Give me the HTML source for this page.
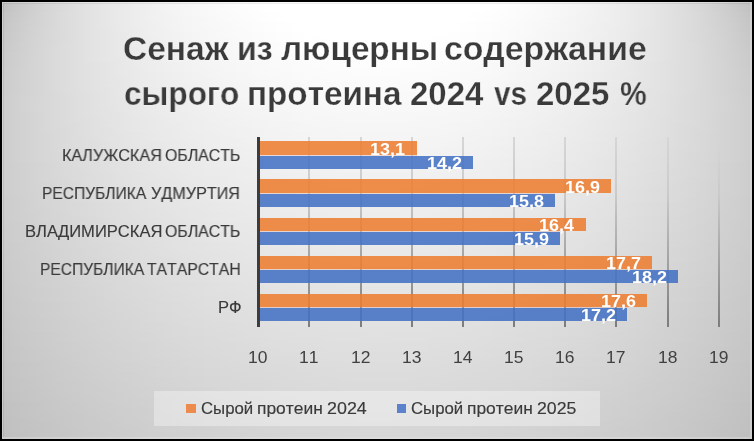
<!DOCTYPE html><html><head><meta charset="utf-8"><title>chart</title><style>
html,body{margin:0;padding:0;}
body{width:754px;height:441px;background:#000;position:relative;overflow:hidden;font-family:"Liberation Sans",sans-serif;}
#chart{position:absolute;left:2px;top:2px;width:750px;height:437px;overflow:hidden;}
#chart div{width:750px;}
#bd{position:absolute;left:2px;top:2px;width:747px;height:434px;border-style:solid;border-color:rgba(235,235,235,.3);border-width:1px 2px 2px 1px;}
#bd2{position:absolute;left:3px;top:3px;width:746px;height:433px;border-style:solid;border-color:rgba(0,0,0,.07);border-width:1px 0 0 1px;}
.t{font-kerning:none;position:absolute;white-space:nowrap;line-height:1;transform-origin:0 0;color:#3a3a3a;will-change:transform;}
.r{-webkit-text-stroke:0.15px #3a3a3a;}
.a{color:#404040;}
.g{position:absolute;width:2px;background:linear-gradient(#d6d6d6,#cacaca 30%,#7c7c7c);}
.bo{position:absolute;background:rgba(237,125,49,.88);}
.bb{position:absolute;background:rgba(68,114,196,.88);}
.dl{color:#fff;font-weight:bold;}
</style></head><body>
<div id="chart"><div style="height:5px;background:linear-gradient(90deg,#c0c0c0 0.0%,#c8c8c8 2.0%,#cfcfcf 4.0%,#d5d5d5 6.0%,#dadada 8.0%,#dfdfdf 10.0%,#e3e3e3 12.0%,#e7e7e7 14.0%,#eaeaea 16.0%,#ededed 18.0%,#f0f0f0 20.0%,#f3f3f3 22.0%,#f5f5f5 24.0%,#f7f7f7 26.0%,#f9f9f9 28.0%,#fbfbfb 30.0%,#fdfdfd 32.0%,#fefefe 34.0%,#ffffff 36.0%,#ffffff 38.0%,#ffffff 40.0%,#ffffff 42.0%,#ffffff 44.0%,#ffffff 46.0%,#ffffff 48.0%,#ffffff 50.0%,#ffffff 52.0%,#ffffff 54.0%,#ffffff 56.0%,#ffffff 58.0%,#ffffff 60.0%,#ffffff 62.0%,#ffffff 64.0%,#fefefe 66.0%,#fdfdfd 68.0%,#fbfbfb 70.0%,#f9f9f9 72.0%,#f7f7f7 74.0%,#f5f5f5 76.0%,#f3f3f3 78.0%,#f0f0f0 80.0%,#ededed 82.0%,#eaeaea 84.0%,#e7e7e7 86.0%,#e3e3e3 88.0%,#dfdfdf 90.0%,#dadada 92.0%,#d5d5d5 94.0%,#cfcfcf 96.0%,#c8c8c8 98.0%,#c0c0c0 100.0%)"></div>
<div style="height:5px;background:linear-gradient(90deg,#c1c1c1 0.0%,#c9c9c9 2.0%,#cfcfcf 4.0%,#d5d5d5 6.0%,#dadada 8.0%,#dfdfdf 10.0%,#e3e3e3 12.0%,#e7e7e7 14.0%,#eaeaea 16.0%,#ededed 18.0%,#f0f0f0 20.0%,#f3f3f3 22.0%,#f5f5f5 24.0%,#f7f7f7 26.0%,#f9f9f9 28.0%,#fbfbfb 30.0%,#fcfcfc 32.0%,#fefefe 34.0%,#ffffff 36.0%,#ffffff 38.0%,#ffffff 40.0%,#ffffff 42.0%,#ffffff 44.0%,#ffffff 46.0%,#ffffff 48.0%,#ffffff 50.0%,#ffffff 52.0%,#ffffff 54.0%,#ffffff 56.0%,#ffffff 58.0%,#ffffff 60.0%,#ffffff 62.0%,#ffffff 64.0%,#fefefe 66.0%,#fcfcfc 68.0%,#fbfbfb 70.0%,#f9f9f9 72.0%,#f7f7f7 74.0%,#f5f5f5 76.0%,#f3f3f3 78.0%,#f0f0f0 80.0%,#ededed 82.0%,#eaeaea 84.0%,#e7e7e7 86.0%,#e3e3e3 88.0%,#dfdfdf 90.0%,#dadada 92.0%,#d5d5d5 94.0%,#cfcfcf 96.0%,#c9c9c9 98.0%,#c1c1c1 100.0%)"></div>
<div style="height:5px;background:linear-gradient(90deg,#c3c3c3 0.0%,#cacaca 2.0%,#d0d0d0 4.0%,#d6d6d6 6.0%,#dbdbdb 8.0%,#dfdfdf 10.0%,#e3e3e3 12.0%,#e7e7e7 14.0%,#eaeaea 16.0%,#ededed 18.0%,#f0f0f0 20.0%,#f2f2f2 22.0%,#f5f5f5 24.0%,#f7f7f7 26.0%,#f9f9f9 28.0%,#fafafa 30.0%,#fcfcfc 32.0%,#fdfdfd 34.0%,#fefefe 36.0%,#ffffff 38.0%,#ffffff 40.0%,#ffffff 42.0%,#ffffff 44.0%,#ffffff 46.0%,#ffffff 48.0%,#ffffff 50.0%,#ffffff 52.0%,#ffffff 54.0%,#ffffff 56.0%,#ffffff 58.0%,#ffffff 60.0%,#ffffff 62.0%,#fefefe 64.0%,#fdfdfd 66.0%,#fcfcfc 68.0%,#fafafa 70.0%,#f9f9f9 72.0%,#f7f7f7 74.0%,#f5f5f5 76.0%,#f2f2f2 78.0%,#f0f0f0 80.0%,#ededed 82.0%,#eaeaea 84.0%,#e7e7e7 86.0%,#e3e3e3 88.0%,#dfdfdf 90.0%,#dbdbdb 92.0%,#d6d6d6 94.0%,#d0d0d0 96.0%,#cacaca 98.0%,#c3c3c3 100.0%)"></div>
<div style="height:5px;background:linear-gradient(90deg,#c4c4c4 0.0%,#cbcbcb 2.0%,#d1d1d1 4.0%,#d6d6d6 6.0%,#dbdbdb 8.0%,#dfdfdf 10.0%,#e3e3e3 12.0%,#e7e7e7 14.0%,#eaeaea 16.0%,#ededed 18.0%,#f0f0f0 20.0%,#f2f2f2 22.0%,#f4f4f4 24.0%,#f6f6f6 26.0%,#f8f8f8 28.0%,#fafafa 30.0%,#fbfbfb 32.0%,#fdfdfd 34.0%,#fefefe 36.0%,#ffffff 38.0%,#ffffff 40.0%,#ffffff 42.0%,#ffffff 44.0%,#ffffff 46.0%,#ffffff 48.0%,#ffffff 50.0%,#ffffff 52.0%,#ffffff 54.0%,#ffffff 56.0%,#ffffff 58.0%,#ffffff 60.0%,#ffffff 62.0%,#fefefe 64.0%,#fdfdfd 66.0%,#fbfbfb 68.0%,#fafafa 70.0%,#f8f8f8 72.0%,#f6f6f6 74.0%,#f4f4f4 76.0%,#f2f2f2 78.0%,#f0f0f0 80.0%,#ededed 82.0%,#eaeaea 84.0%,#e7e7e7 86.0%,#e3e3e3 88.0%,#dfdfdf 90.0%,#dbdbdb 92.0%,#d6d6d6 94.0%,#d1d1d1 96.0%,#cbcbcb 98.0%,#c4c4c4 100.0%)"></div>
<div style="height:5px;background:linear-gradient(90deg,#c5c5c5 0.0%,#cccccc 2.0%,#d1d1d1 4.0%,#d6d6d6 6.0%,#dbdbdb 8.0%,#dfdfdf 10.0%,#e3e3e3 12.0%,#e7e7e7 14.0%,#eaeaea 16.0%,#ededed 18.0%,#efefef 20.0%,#f2f2f2 22.0%,#f4f4f4 24.0%,#f6f6f6 26.0%,#f8f8f8 28.0%,#f9f9f9 30.0%,#fbfbfb 32.0%,#fcfcfc 34.0%,#fdfdfd 36.0%,#fefefe 38.0%,#ffffff 40.0%,#ffffff 42.0%,#ffffff 44.0%,#ffffff 46.0%,#ffffff 48.0%,#ffffff 50.0%,#ffffff 52.0%,#ffffff 54.0%,#ffffff 56.0%,#ffffff 58.0%,#ffffff 60.0%,#fefefe 62.0%,#fdfdfd 64.0%,#fcfcfc 66.0%,#fbfbfb 68.0%,#f9f9f9 70.0%,#f8f8f8 72.0%,#f6f6f6 74.0%,#f4f4f4 76.0%,#f2f2f2 78.0%,#efefef 80.0%,#ededed 82.0%,#eaeaea 84.0%,#e7e7e7 86.0%,#e3e3e3 88.0%,#dfdfdf 90.0%,#dbdbdb 92.0%,#d6d6d6 94.0%,#d1d1d1 96.0%,#cccccc 98.0%,#c5c5c5 100.0%)"></div>
<div style="height:5px;background:linear-gradient(90deg,#c6c6c6 0.0%,#cccccc 2.0%,#d2d2d2 4.0%,#d7d7d7 6.0%,#dbdbdb 8.0%,#dfdfdf 10.0%,#e3e3e3 12.0%,#e6e6e6 14.0%,#eaeaea 16.0%,#ececec 18.0%,#efefef 20.0%,#f1f1f1 22.0%,#f4f4f4 24.0%,#f6f6f6 26.0%,#f7f7f7 28.0%,#f9f9f9 30.0%,#fafafa 32.0%,#fcfcfc 34.0%,#fdfdfd 36.0%,#fefefe 38.0%,#ffffff 40.0%,#ffffff 42.0%,#ffffff 44.0%,#ffffff 46.0%,#ffffff 48.0%,#ffffff 50.0%,#ffffff 52.0%,#ffffff 54.0%,#ffffff 56.0%,#ffffff 58.0%,#ffffff 60.0%,#fefefe 62.0%,#fdfdfd 64.0%,#fcfcfc 66.0%,#fafafa 68.0%,#f9f9f9 70.0%,#f7f7f7 72.0%,#f6f6f6 74.0%,#f4f4f4 76.0%,#f1f1f1 78.0%,#efefef 80.0%,#ececec 82.0%,#eaeaea 84.0%,#e6e6e6 86.0%,#e3e3e3 88.0%,#dfdfdf 90.0%,#dbdbdb 92.0%,#d7d7d7 94.0%,#d2d2d2 96.0%,#cccccc 98.0%,#c6c6c6 100.0%)"></div>
<div style="height:5px;background:linear-gradient(90deg,#c7c7c7 0.0%,#cdcdcd 2.0%,#d2d2d2 4.0%,#d7d7d7 6.0%,#dbdbdb 8.0%,#dfdfdf 10.0%,#e3e3e3 12.0%,#e6e6e6 14.0%,#e9e9e9 16.0%,#ececec 18.0%,#efefef 20.0%,#f1f1f1 22.0%,#f3f3f3 24.0%,#f5f5f5 26.0%,#f7f7f7 28.0%,#f9f9f9 30.0%,#fafafa 32.0%,#fbfbfb 34.0%,#fcfcfc 36.0%,#fdfdfd 38.0%,#fefefe 40.0%,#ffffff 42.0%,#ffffff 44.0%,#ffffff 46.0%,#ffffff 48.0%,#ffffff 50.0%,#ffffff 52.0%,#ffffff 54.0%,#ffffff 56.0%,#ffffff 58.0%,#fefefe 60.0%,#fdfdfd 62.0%,#fcfcfc 64.0%,#fbfbfb 66.0%,#fafafa 68.0%,#f9f9f9 70.0%,#f7f7f7 72.0%,#f5f5f5 74.0%,#f3f3f3 76.0%,#f1f1f1 78.0%,#efefef 80.0%,#ececec 82.0%,#e9e9e9 84.0%,#e6e6e6 86.0%,#e3e3e3 88.0%,#dfdfdf 90.0%,#dbdbdb 92.0%,#d7d7d7 94.0%,#d2d2d2 96.0%,#cdcdcd 98.0%,#c7c7c7 100.0%)"></div>
<div style="height:5px;background:linear-gradient(90deg,#c8c8c8 0.0%,#cdcdcd 2.0%,#d3d3d3 4.0%,#d7d7d7 6.0%,#dbdbdb 8.0%,#dfdfdf 10.0%,#e3e3e3 12.0%,#e6e6e6 14.0%,#e9e9e9 16.0%,#ececec 18.0%,#eeeeee 20.0%,#f1f1f1 22.0%,#f3f3f3 24.0%,#f5f5f5 26.0%,#f7f7f7 28.0%,#f8f8f8 30.0%,#fafafa 32.0%,#fbfbfb 34.0%,#fcfcfc 36.0%,#fdfdfd 38.0%,#fefefe 40.0%,#fefefe 42.0%,#ffffff 44.0%,#ffffff 46.0%,#ffffff 48.0%,#ffffff 50.0%,#ffffff 52.0%,#ffffff 54.0%,#ffffff 56.0%,#fefefe 58.0%,#fefefe 60.0%,#fdfdfd 62.0%,#fcfcfc 64.0%,#fbfbfb 66.0%,#fafafa 68.0%,#f8f8f8 70.0%,#f7f7f7 72.0%,#f5f5f5 74.0%,#f3f3f3 76.0%,#f1f1f1 78.0%,#eeeeee 80.0%,#ececec 82.0%,#e9e9e9 84.0%,#e6e6e6 86.0%,#e3e3e3 88.0%,#dfdfdf 90.0%,#dbdbdb 92.0%,#d7d7d7 94.0%,#d3d3d3 96.0%,#cdcdcd 98.0%,#c8c8c8 100.0%)"></div>
<div style="height:5px;background:linear-gradient(90deg,#c8c8c8 0.0%,#cecece 2.0%,#d3d3d3 4.0%,#d7d7d7 6.0%,#dcdcdc 8.0%,#dfdfdf 10.0%,#e3e3e3 12.0%,#e6e6e6 14.0%,#e9e9e9 16.0%,#ececec 18.0%,#eeeeee 20.0%,#f0f0f0 22.0%,#f3f3f3 24.0%,#f4f4f4 26.0%,#f6f6f6 28.0%,#f8f8f8 30.0%,#f9f9f9 32.0%,#fafafa 34.0%,#fbfbfb 36.0%,#fcfcfc 38.0%,#fdfdfd 40.0%,#fefefe 42.0%,#fefefe 44.0%,#ffffff 46.0%,#ffffff 48.0%,#ffffff 50.0%,#ffffff 52.0%,#ffffff 54.0%,#fefefe 56.0%,#fefefe 58.0%,#fdfdfd 60.0%,#fcfcfc 62.0%,#fbfbfb 64.0%,#fafafa 66.0%,#f9f9f9 68.0%,#f8f8f8 70.0%,#f6f6f6 72.0%,#f4f4f4 74.0%,#f3f3f3 76.0%,#f0f0f0 78.0%,#eeeeee 80.0%,#ececec 82.0%,#e9e9e9 84.0%,#e6e6e6 86.0%,#e3e3e3 88.0%,#dfdfdf 90.0%,#dcdcdc 92.0%,#d7d7d7 94.0%,#d3d3d3 96.0%,#cecece 98.0%,#c8c8c8 100.0%)"></div>
<div style="height:5px;background:linear-gradient(90deg,#c9c9c9 0.0%,#cecece 2.0%,#d3d3d3 4.0%,#d8d8d8 6.0%,#dcdcdc 8.0%,#dfdfdf 10.0%,#e3e3e3 12.0%,#e6e6e6 14.0%,#e9e9e9 16.0%,#ebebeb 18.0%,#eeeeee 20.0%,#f0f0f0 22.0%,#f2f2f2 24.0%,#f4f4f4 26.0%,#f6f6f6 28.0%,#f7f7f7 30.0%,#f9f9f9 32.0%,#fafafa 34.0%,#fbfbfb 36.0%,#fcfcfc 38.0%,#fdfdfd 40.0%,#fdfdfd 42.0%,#fefefe 44.0%,#fefefe 46.0%,#fefefe 48.0%,#fefefe 50.0%,#fefefe 52.0%,#fefefe 54.0%,#fefefe 56.0%,#fdfdfd 58.0%,#fdfdfd 60.0%,#fcfcfc 62.0%,#fbfbfb 64.0%,#fafafa 66.0%,#f9f9f9 68.0%,#f7f7f7 70.0%,#f6f6f6 72.0%,#f4f4f4 74.0%,#f2f2f2 76.0%,#f0f0f0 78.0%,#eeeeee 80.0%,#ebebeb 82.0%,#e9e9e9 84.0%,#e6e6e6 86.0%,#e3e3e3 88.0%,#dfdfdf 90.0%,#dcdcdc 92.0%,#d8d8d8 94.0%,#d3d3d3 96.0%,#cecece 98.0%,#c9c9c9 100.0%)"></div>
<div style="height:5px;background:linear-gradient(90deg,#cacaca 0.0%,#cfcfcf 2.0%,#d3d3d3 4.0%,#d8d8d8 6.0%,#dcdcdc 8.0%,#dfdfdf 10.0%,#e3e3e3 12.0%,#e6e6e6 14.0%,#e9e9e9 16.0%,#ebebeb 18.0%,#eeeeee 20.0%,#f0f0f0 22.0%,#f2f2f2 24.0%,#f4f4f4 26.0%,#f5f5f5 28.0%,#f7f7f7 30.0%,#f8f8f8 32.0%,#f9f9f9 34.0%,#fafafa 36.0%,#fbfbfb 38.0%,#fcfcfc 40.0%,#fdfdfd 42.0%,#fdfdfd 44.0%,#fefefe 46.0%,#fefefe 48.0%,#fefefe 50.0%,#fefefe 52.0%,#fefefe 54.0%,#fdfdfd 56.0%,#fdfdfd 58.0%,#fcfcfc 60.0%,#fbfbfb 62.0%,#fafafa 64.0%,#f9f9f9 66.0%,#f8f8f8 68.0%,#f7f7f7 70.0%,#f5f5f5 72.0%,#f4f4f4 74.0%,#f2f2f2 76.0%,#f0f0f0 78.0%,#eeeeee 80.0%,#ebebeb 82.0%,#e9e9e9 84.0%,#e6e6e6 86.0%,#e3e3e3 88.0%,#dfdfdf 90.0%,#dcdcdc 92.0%,#d8d8d8 94.0%,#d3d3d3 96.0%,#cfcfcf 98.0%,#cacaca 100.0%)"></div>
<div style="height:5px;background:linear-gradient(90deg,#cacaca 0.0%,#cfcfcf 2.0%,#d4d4d4 4.0%,#d8d8d8 6.0%,#dcdcdc 8.0%,#dfdfdf 10.0%,#e3e3e3 12.0%,#e6e6e6 14.0%,#e8e8e8 16.0%,#ebebeb 18.0%,#ededed 20.0%,#f0f0f0 22.0%,#f2f2f2 24.0%,#f3f3f3 26.0%,#f5f5f5 28.0%,#f6f6f6 30.0%,#f8f8f8 32.0%,#f9f9f9 34.0%,#fafafa 36.0%,#fbfbfb 38.0%,#fcfcfc 40.0%,#fcfcfc 42.0%,#fdfdfd 44.0%,#fdfdfd 46.0%,#fdfdfd 48.0%,#fdfdfd 50.0%,#fdfdfd 52.0%,#fdfdfd 54.0%,#fdfdfd 56.0%,#fcfcfc 58.0%,#fcfcfc 60.0%,#fbfbfb 62.0%,#fafafa 64.0%,#f9f9f9 66.0%,#f8f8f8 68.0%,#f6f6f6 70.0%,#f5f5f5 72.0%,#f3f3f3 74.0%,#f2f2f2 76.0%,#f0f0f0 78.0%,#ededed 80.0%,#ebebeb 82.0%,#e8e8e8 84.0%,#e6e6e6 86.0%,#e3e3e3 88.0%,#dfdfdf 90.0%,#dcdcdc 92.0%,#d8d8d8 94.0%,#d4d4d4 96.0%,#cfcfcf 98.0%,#cacaca 100.0%)"></div>
<div style="height:5px;background:linear-gradient(90deg,#cacaca 0.0%,#cfcfcf 2.0%,#d4d4d4 4.0%,#d8d8d8 6.0%,#dcdcdc 8.0%,#dfdfdf 10.0%,#e2e2e2 12.0%,#e5e5e5 14.0%,#e8e8e8 16.0%,#ebebeb 18.0%,#ededed 20.0%,#efefef 22.0%,#f1f1f1 24.0%,#f3f3f3 26.0%,#f5f5f5 28.0%,#f6f6f6 30.0%,#f7f7f7 32.0%,#f8f8f8 34.0%,#fafafa 36.0%,#fafafa 38.0%,#fbfbfb 40.0%,#fcfcfc 42.0%,#fcfcfc 44.0%,#fdfdfd 46.0%,#fdfdfd 48.0%,#fdfdfd 50.0%,#fdfdfd 52.0%,#fdfdfd 54.0%,#fcfcfc 56.0%,#fcfcfc 58.0%,#fbfbfb 60.0%,#fafafa 62.0%,#fafafa 64.0%,#f8f8f8 66.0%,#f7f7f7 68.0%,#f6f6f6 70.0%,#f5f5f5 72.0%,#f3f3f3 74.0%,#f1f1f1 76.0%,#efefef 78.0%,#ededed 80.0%,#ebebeb 82.0%,#e8e8e8 84.0%,#e5e5e5 86.0%,#e2e2e2 88.0%,#dfdfdf 90.0%,#dcdcdc 92.0%,#d8d8d8 94.0%,#d4d4d4 96.0%,#cfcfcf 98.0%,#cacaca 100.0%)"></div>
<div style="height:5px;background:linear-gradient(90deg,#cbcbcb 0.0%,#d0d0d0 2.0%,#d4d4d4 4.0%,#d8d8d8 6.0%,#dcdcdc 8.0%,#dfdfdf 10.0%,#e2e2e2 12.0%,#e5e5e5 14.0%,#e8e8e8 16.0%,#eaeaea 18.0%,#ededed 20.0%,#efefef 22.0%,#f1f1f1 24.0%,#f3f3f3 26.0%,#f4f4f4 28.0%,#f6f6f6 30.0%,#f7f7f7 32.0%,#f8f8f8 34.0%,#f9f9f9 36.0%,#fafafa 38.0%,#fbfbfb 40.0%,#fbfbfb 42.0%,#fcfcfc 44.0%,#fcfcfc 46.0%,#fcfcfc 48.0%,#fcfcfc 50.0%,#fcfcfc 52.0%,#fcfcfc 54.0%,#fcfcfc 56.0%,#fbfbfb 58.0%,#fbfbfb 60.0%,#fafafa 62.0%,#f9f9f9 64.0%,#f8f8f8 66.0%,#f7f7f7 68.0%,#f6f6f6 70.0%,#f4f4f4 72.0%,#f3f3f3 74.0%,#f1f1f1 76.0%,#efefef 78.0%,#ededed 80.0%,#eaeaea 82.0%,#e8e8e8 84.0%,#e5e5e5 86.0%,#e2e2e2 88.0%,#dfdfdf 90.0%,#dcdcdc 92.0%,#d8d8d8 94.0%,#d4d4d4 96.0%,#d0d0d0 98.0%,#cbcbcb 100.0%)"></div>
<div style="height:5px;background:linear-gradient(90deg,#cbcbcb 0.0%,#d0d0d0 2.0%,#d4d4d4 4.0%,#d8d8d8 6.0%,#dcdcdc 8.0%,#dfdfdf 10.0%,#e2e2e2 12.0%,#e5e5e5 14.0%,#e8e8e8 16.0%,#eaeaea 18.0%,#ececec 20.0%,#eeeeee 22.0%,#f0f0f0 24.0%,#f2f2f2 26.0%,#f4f4f4 28.0%,#f5f5f5 30.0%,#f6f6f6 32.0%,#f8f8f8 34.0%,#f9f9f9 36.0%,#f9f9f9 38.0%,#fafafa 40.0%,#fbfbfb 42.0%,#fbfbfb 44.0%,#fbfbfb 46.0%,#fcfcfc 48.0%,#fcfcfc 50.0%,#fcfcfc 52.0%,#fbfbfb 54.0%,#fbfbfb 56.0%,#fbfbfb 58.0%,#fafafa 60.0%,#f9f9f9 62.0%,#f9f9f9 64.0%,#f8f8f8 66.0%,#f6f6f6 68.0%,#f5f5f5 70.0%,#f4f4f4 72.0%,#f2f2f2 74.0%,#f0f0f0 76.0%,#eeeeee 78.0%,#ececec 80.0%,#eaeaea 82.0%,#e8e8e8 84.0%,#e5e5e5 86.0%,#e2e2e2 88.0%,#dfdfdf 90.0%,#dcdcdc 92.0%,#d8d8d8 94.0%,#d4d4d4 96.0%,#d0d0d0 98.0%,#cbcbcb 100.0%)"></div>
<div style="height:5px;background:linear-gradient(90deg,#cccccc 0.0%,#d0d0d0 2.0%,#d4d4d4 4.0%,#d8d8d8 6.0%,#dcdcdc 8.0%,#dfdfdf 10.0%,#e2e2e2 12.0%,#e5e5e5 14.0%,#e7e7e7 16.0%,#eaeaea 18.0%,#ececec 20.0%,#eeeeee 22.0%,#f0f0f0 24.0%,#f2f2f2 26.0%,#f3f3f3 28.0%,#f5f5f5 30.0%,#f6f6f6 32.0%,#f7f7f7 34.0%,#f8f8f8 36.0%,#f9f9f9 38.0%,#fafafa 40.0%,#fafafa 42.0%,#fbfbfb 44.0%,#fbfbfb 46.0%,#fbfbfb 48.0%,#fbfbfb 50.0%,#fbfbfb 52.0%,#fbfbfb 54.0%,#fbfbfb 56.0%,#fafafa 58.0%,#fafafa 60.0%,#f9f9f9 62.0%,#f8f8f8 64.0%,#f7f7f7 66.0%,#f6f6f6 68.0%,#f5f5f5 70.0%,#f3f3f3 72.0%,#f2f2f2 74.0%,#f0f0f0 76.0%,#eeeeee 78.0%,#ececec 80.0%,#eaeaea 82.0%,#e7e7e7 84.0%,#e5e5e5 86.0%,#e2e2e2 88.0%,#dfdfdf 90.0%,#dcdcdc 92.0%,#d8d8d8 94.0%,#d4d4d4 96.0%,#d0d0d0 98.0%,#cccccc 100.0%)"></div>
<div style="height:5px;background:linear-gradient(90deg,#cccccc 0.0%,#d0d0d0 2.0%,#d4d4d4 4.0%,#d8d8d8 6.0%,#dcdcdc 8.0%,#dfdfdf 10.0%,#e2e2e2 12.0%,#e5e5e5 14.0%,#e7e7e7 16.0%,#eaeaea 18.0%,#ececec 20.0%,#eeeeee 22.0%,#f0f0f0 24.0%,#f1f1f1 26.0%,#f3f3f3 28.0%,#f4f4f4 30.0%,#f5f5f5 32.0%,#f7f7f7 34.0%,#f8f8f8 36.0%,#f8f8f8 38.0%,#f9f9f9 40.0%,#fafafa 42.0%,#fafafa 44.0%,#fafafa 46.0%,#fbfbfb 48.0%,#fbfbfb 50.0%,#fbfbfb 52.0%,#fafafa 54.0%,#fafafa 56.0%,#fafafa 58.0%,#f9f9f9 60.0%,#f8f8f8 62.0%,#f8f8f8 64.0%,#f7f7f7 66.0%,#f5f5f5 68.0%,#f4f4f4 70.0%,#f3f3f3 72.0%,#f1f1f1 74.0%,#f0f0f0 76.0%,#eeeeee 78.0%,#ececec 80.0%,#eaeaea 82.0%,#e7e7e7 84.0%,#e5e5e5 86.0%,#e2e2e2 88.0%,#dfdfdf 90.0%,#dcdcdc 92.0%,#d8d8d8 94.0%,#d4d4d4 96.0%,#d0d0d0 98.0%,#cccccc 100.0%)"></div>
<div style="height:5px;background:linear-gradient(90deg,#cccccc 0.0%,#d0d0d0 2.0%,#d4d4d4 4.0%,#d8d8d8 6.0%,#dcdcdc 8.0%,#dfdfdf 10.0%,#e2e2e2 12.0%,#e4e4e4 14.0%,#e7e7e7 16.0%,#e9e9e9 18.0%,#ebebeb 20.0%,#ededed 22.0%,#efefef 24.0%,#f1f1f1 26.0%,#f2f2f2 28.0%,#f4f4f4 30.0%,#f5f5f5 32.0%,#f6f6f6 34.0%,#f7f7f7 36.0%,#f8f8f8 38.0%,#f9f9f9 40.0%,#f9f9f9 42.0%,#fafafa 44.0%,#fafafa 46.0%,#fafafa 48.0%,#fafafa 50.0%,#fafafa 52.0%,#fafafa 54.0%,#fafafa 56.0%,#f9f9f9 58.0%,#f9f9f9 60.0%,#f8f8f8 62.0%,#f7f7f7 64.0%,#f6f6f6 66.0%,#f5f5f5 68.0%,#f4f4f4 70.0%,#f2f2f2 72.0%,#f1f1f1 74.0%,#efefef 76.0%,#ededed 78.0%,#ebebeb 80.0%,#e9e9e9 82.0%,#e7e7e7 84.0%,#e4e4e4 86.0%,#e2e2e2 88.0%,#dfdfdf 90.0%,#dcdcdc 92.0%,#d8d8d8 94.0%,#d4d4d4 96.0%,#d0d0d0 98.0%,#cccccc 100.0%)"></div>
<div style="height:5px;background:linear-gradient(90deg,#cccccc 0.0%,#d1d1d1 2.0%,#d4d4d4 4.0%,#d8d8d8 6.0%,#dbdbdb 8.0%,#dfdfdf 10.0%,#e1e1e1 12.0%,#e4e4e4 14.0%,#e7e7e7 16.0%,#e9e9e9 18.0%,#ebebeb 20.0%,#ededed 22.0%,#efefef 24.0%,#f0f0f0 26.0%,#f2f2f2 28.0%,#f3f3f3 30.0%,#f5f5f5 32.0%,#f6f6f6 34.0%,#f7f7f7 36.0%,#f7f7f7 38.0%,#f8f8f8 40.0%,#f9f9f9 42.0%,#f9f9f9 44.0%,#f9f9f9 46.0%,#fafafa 48.0%,#fafafa 50.0%,#fafafa 52.0%,#f9f9f9 54.0%,#f9f9f9 56.0%,#f9f9f9 58.0%,#f8f8f8 60.0%,#f7f7f7 62.0%,#f7f7f7 64.0%,#f6f6f6 66.0%,#f5f5f5 68.0%,#f3f3f3 70.0%,#f2f2f2 72.0%,#f0f0f0 74.0%,#efefef 76.0%,#ededed 78.0%,#ebebeb 80.0%,#e9e9e9 82.0%,#e7e7e7 84.0%,#e4e4e4 86.0%,#e1e1e1 88.0%,#dfdfdf 90.0%,#dbdbdb 92.0%,#d8d8d8 94.0%,#d4d4d4 96.0%,#d1d1d1 98.0%,#cccccc 100.0%)"></div>
<div style="height:5px;background:linear-gradient(90deg,#cdcdcd 0.0%,#d1d1d1 2.0%,#d5d5d5 4.0%,#d8d8d8 6.0%,#dbdbdb 8.0%,#dedede 10.0%,#e1e1e1 12.0%,#e4e4e4 14.0%,#e6e6e6 16.0%,#e9e9e9 18.0%,#ebebeb 20.0%,#ededed 22.0%,#eeeeee 24.0%,#f0f0f0 26.0%,#f2f2f2 28.0%,#f3f3f3 30.0%,#f4f4f4 32.0%,#f5f5f5 34.0%,#f6f6f6 36.0%,#f7f7f7 38.0%,#f8f8f8 40.0%,#f8f8f8 42.0%,#f9f9f9 44.0%,#f9f9f9 46.0%,#f9f9f9 48.0%,#f9f9f9 50.0%,#f9f9f9 52.0%,#f9f9f9 54.0%,#f9f9f9 56.0%,#f8f8f8 58.0%,#f8f8f8 60.0%,#f7f7f7 62.0%,#f6f6f6 64.0%,#f5f5f5 66.0%,#f4f4f4 68.0%,#f3f3f3 70.0%,#f2f2f2 72.0%,#f0f0f0 74.0%,#eeeeee 76.0%,#ededed 78.0%,#ebebeb 80.0%,#e9e9e9 82.0%,#e6e6e6 84.0%,#e4e4e4 86.0%,#e1e1e1 88.0%,#dedede 90.0%,#dbdbdb 92.0%,#d8d8d8 94.0%,#d5d5d5 96.0%,#d1d1d1 98.0%,#cdcdcd 100.0%)"></div>
<div style="height:5px;background:linear-gradient(90deg,#cdcdcd 0.0%,#d1d1d1 2.0%,#d5d5d5 4.0%,#d8d8d8 6.0%,#dbdbdb 8.0%,#dedede 10.0%,#e1e1e1 12.0%,#e4e4e4 14.0%,#e6e6e6 16.0%,#e8e8e8 18.0%,#eaeaea 20.0%,#ececec 22.0%,#eeeeee 24.0%,#f0f0f0 26.0%,#f1f1f1 28.0%,#f2f2f2 30.0%,#f4f4f4 32.0%,#f5f5f5 34.0%,#f6f6f6 36.0%,#f6f6f6 38.0%,#f7f7f7 40.0%,#f8f8f8 42.0%,#f8f8f8 44.0%,#f8f8f8 46.0%,#f9f9f9 48.0%,#f9f9f9 50.0%,#f9f9f9 52.0%,#f8f8f8 54.0%,#f8f8f8 56.0%,#f8f8f8 58.0%,#f7f7f7 60.0%,#f6f6f6 62.0%,#f6f6f6 64.0%,#f5f5f5 66.0%,#f4f4f4 68.0%,#f2f2f2 70.0%,#f1f1f1 72.0%,#f0f0f0 74.0%,#eeeeee 76.0%,#ececec 78.0%,#eaeaea 80.0%,#e8e8e8 82.0%,#e6e6e6 84.0%,#e4e4e4 86.0%,#e1e1e1 88.0%,#dedede 90.0%,#dbdbdb 92.0%,#d8d8d8 94.0%,#d5d5d5 96.0%,#d1d1d1 98.0%,#cdcdcd 100.0%)"></div>
<div style="height:5px;background:linear-gradient(90deg,#cdcdcd 0.0%,#d1d1d1 2.0%,#d5d5d5 4.0%,#d8d8d8 6.0%,#dbdbdb 8.0%,#dedede 10.0%,#e1e1e1 12.0%,#e3e3e3 14.0%,#e6e6e6 16.0%,#e8e8e8 18.0%,#eaeaea 20.0%,#ececec 22.0%,#eeeeee 24.0%,#efefef 26.0%,#f1f1f1 28.0%,#f2f2f2 30.0%,#f3f3f3 32.0%,#f4f4f4 34.0%,#f5f5f5 36.0%,#f6f6f6 38.0%,#f7f7f7 40.0%,#f7f7f7 42.0%,#f8f8f8 44.0%,#f8f8f8 46.0%,#f8f8f8 48.0%,#f8f8f8 50.0%,#f8f8f8 52.0%,#f8f8f8 54.0%,#f8f8f8 56.0%,#f7f7f7 58.0%,#f7f7f7 60.0%,#f6f6f6 62.0%,#f5f5f5 64.0%,#f4f4f4 66.0%,#f3f3f3 68.0%,#f2f2f2 70.0%,#f1f1f1 72.0%,#efefef 74.0%,#eeeeee 76.0%,#ececec 78.0%,#eaeaea 80.0%,#e8e8e8 82.0%,#e6e6e6 84.0%,#e3e3e3 86.0%,#e1e1e1 88.0%,#dedede 90.0%,#dbdbdb 92.0%,#d8d8d8 94.0%,#d5d5d5 96.0%,#d1d1d1 98.0%,#cdcdcd 100.0%)"></div>
<div style="height:5px;background:linear-gradient(90deg,#cdcdcd 0.0%,#d1d1d1 2.0%,#d4d4d4 4.0%,#d8d8d8 6.0%,#dbdbdb 8.0%,#dedede 10.0%,#e1e1e1 12.0%,#e3e3e3 14.0%,#e5e5e5 16.0%,#e8e8e8 18.0%,#eaeaea 20.0%,#ececec 22.0%,#ededed 24.0%,#efefef 26.0%,#f0f0f0 28.0%,#f2f2f2 30.0%,#f3f3f3 32.0%,#f4f4f4 34.0%,#f5f5f5 36.0%,#f5f5f5 38.0%,#f6f6f6 40.0%,#f7f7f7 42.0%,#f7f7f7 44.0%,#f7f7f7 46.0%,#f7f7f7 48.0%,#f8f8f8 50.0%,#f7f7f7 52.0%,#f7f7f7 54.0%,#f7f7f7 56.0%,#f7f7f7 58.0%,#f6f6f6 60.0%,#f5f5f5 62.0%,#f5f5f5 64.0%,#f4f4f4 66.0%,#f3f3f3 68.0%,#f2f2f2 70.0%,#f0f0f0 72.0%,#efefef 74.0%,#ededed 76.0%,#ececec 78.0%,#eaeaea 80.0%,#e8e8e8 82.0%,#e5e5e5 84.0%,#e3e3e3 86.0%,#e1e1e1 88.0%,#dedede 90.0%,#dbdbdb 92.0%,#d8d8d8 94.0%,#d4d4d4 96.0%,#d1d1d1 98.0%,#cdcdcd 100.0%)"></div>
<div style="height:5px;background:linear-gradient(90deg,#cdcdcd 0.0%,#d1d1d1 2.0%,#d4d4d4 4.0%,#d8d8d8 6.0%,#dbdbdb 8.0%,#dedede 10.0%,#e0e0e0 12.0%,#e3e3e3 14.0%,#e5e5e5 16.0%,#e7e7e7 18.0%,#e9e9e9 20.0%,#ebebeb 22.0%,#ededed 24.0%,#eeeeee 26.0%,#f0f0f0 28.0%,#f1f1f1 30.0%,#f2f2f2 32.0%,#f3f3f3 34.0%,#f4f4f4 36.0%,#f5f5f5 38.0%,#f6f6f6 40.0%,#f6f6f6 42.0%,#f6f6f6 44.0%,#f7f7f7 46.0%,#f7f7f7 48.0%,#f7f7f7 50.0%,#f7f7f7 52.0%,#f7f7f7 54.0%,#f6f6f6 56.0%,#f6f6f6 58.0%,#f6f6f6 60.0%,#f5f5f5 62.0%,#f4f4f4 64.0%,#f3f3f3 66.0%,#f2f2f2 68.0%,#f1f1f1 70.0%,#f0f0f0 72.0%,#eeeeee 74.0%,#ededed 76.0%,#ebebeb 78.0%,#e9e9e9 80.0%,#e7e7e7 82.0%,#e5e5e5 84.0%,#e3e3e3 86.0%,#e0e0e0 88.0%,#dedede 90.0%,#dbdbdb 92.0%,#d8d8d8 94.0%,#d4d4d4 96.0%,#d1d1d1 98.0%,#cdcdcd 100.0%)"></div>
<div style="height:5px;background:linear-gradient(90deg,#cdcdcd 0.0%,#d1d1d1 2.0%,#d4d4d4 4.0%,#d8d8d8 6.0%,#dbdbdb 8.0%,#dddddd 10.0%,#e0e0e0 12.0%,#e3e3e3 14.0%,#e5e5e5 16.0%,#e7e7e7 18.0%,#e9e9e9 20.0%,#ebebeb 22.0%,#ececec 24.0%,#eeeeee 26.0%,#efefef 28.0%,#f1f1f1 30.0%,#f2f2f2 32.0%,#f3f3f3 34.0%,#f4f4f4 36.0%,#f4f4f4 38.0%,#f5f5f5 40.0%,#f6f6f6 42.0%,#f6f6f6 44.0%,#f6f6f6 46.0%,#f6f6f6 48.0%,#f6f6f6 50.0%,#f6f6f6 52.0%,#f6f6f6 54.0%,#f6f6f6 56.0%,#f6f6f6 58.0%,#f5f5f5 60.0%,#f4f4f4 62.0%,#f4f4f4 64.0%,#f3f3f3 66.0%,#f2f2f2 68.0%,#f1f1f1 70.0%,#efefef 72.0%,#eeeeee 74.0%,#ececec 76.0%,#ebebeb 78.0%,#e9e9e9 80.0%,#e7e7e7 82.0%,#e5e5e5 84.0%,#e3e3e3 86.0%,#e0e0e0 88.0%,#dddddd 90.0%,#dbdbdb 92.0%,#d8d8d8 94.0%,#d4d4d4 96.0%,#d1d1d1 98.0%,#cdcdcd 100.0%)"></div>
<div style="height:5px;background:linear-gradient(90deg,#cdcdcd 0.0%,#d1d1d1 2.0%,#d4d4d4 4.0%,#d8d8d8 6.0%,#dadada 8.0%,#dddddd 10.0%,#e0e0e0 12.0%,#e2e2e2 14.0%,#e5e5e5 16.0%,#e7e7e7 18.0%,#e9e9e9 20.0%,#eaeaea 22.0%,#ececec 24.0%,#eeeeee 26.0%,#efefef 28.0%,#f0f0f0 30.0%,#f1f1f1 32.0%,#f2f2f2 34.0%,#f3f3f3 36.0%,#f4f4f4 38.0%,#f5f5f5 40.0%,#f5f5f5 42.0%,#f5f5f5 44.0%,#f6f6f6 46.0%,#f6f6f6 48.0%,#f6f6f6 50.0%,#f6f6f6 52.0%,#f6f6f6 54.0%,#f5f5f5 56.0%,#f5f5f5 58.0%,#f5f5f5 60.0%,#f4f4f4 62.0%,#f3f3f3 64.0%,#f2f2f2 66.0%,#f1f1f1 68.0%,#f0f0f0 70.0%,#efefef 72.0%,#eeeeee 74.0%,#ececec 76.0%,#eaeaea 78.0%,#e9e9e9 80.0%,#e7e7e7 82.0%,#e5e5e5 84.0%,#e2e2e2 86.0%,#e0e0e0 88.0%,#dddddd 90.0%,#dadada 92.0%,#d8d8d8 94.0%,#d4d4d4 96.0%,#d1d1d1 98.0%,#cdcdcd 100.0%)"></div>
<div style="height:5px;background:linear-gradient(90deg,#cdcdcd 0.0%,#d1d1d1 2.0%,#d4d4d4 4.0%,#d7d7d7 6.0%,#dadada 8.0%,#dddddd 10.0%,#e0e0e0 12.0%,#e2e2e2 14.0%,#e4e4e4 16.0%,#e6e6e6 18.0%,#e8e8e8 20.0%,#eaeaea 22.0%,#ececec 24.0%,#ededed 26.0%,#eeeeee 28.0%,#f0f0f0 30.0%,#f1f1f1 32.0%,#f2f2f2 34.0%,#f3f3f3 36.0%,#f3f3f3 38.0%,#f4f4f4 40.0%,#f5f5f5 42.0%,#f5f5f5 44.0%,#f5f5f5 46.0%,#f5f5f5 48.0%,#f5f5f5 50.0%,#f5f5f5 52.0%,#f5f5f5 54.0%,#f5f5f5 56.0%,#f5f5f5 58.0%,#f4f4f4 60.0%,#f3f3f3 62.0%,#f3f3f3 64.0%,#f2f2f2 66.0%,#f1f1f1 68.0%,#f0f0f0 70.0%,#eeeeee 72.0%,#ededed 74.0%,#ececec 76.0%,#eaeaea 78.0%,#e8e8e8 80.0%,#e6e6e6 82.0%,#e4e4e4 84.0%,#e2e2e2 86.0%,#e0e0e0 88.0%,#dddddd 90.0%,#dadada 92.0%,#d7d7d7 94.0%,#d4d4d4 96.0%,#d1d1d1 98.0%,#cdcdcd 100.0%)"></div>
<div style="height:5px;background:linear-gradient(90deg,#cdcdcd 0.0%,#d1d1d1 2.0%,#d4d4d4 4.0%,#d7d7d7 6.0%,#dadada 8.0%,#dddddd 10.0%,#dfdfdf 12.0%,#e2e2e2 14.0%,#e4e4e4 16.0%,#e6e6e6 18.0%,#e8e8e8 20.0%,#eaeaea 22.0%,#ebebeb 24.0%,#ededed 26.0%,#eeeeee 28.0%,#efefef 30.0%,#f0f0f0 32.0%,#f1f1f1 34.0%,#f2f2f2 36.0%,#f3f3f3 38.0%,#f4f4f4 40.0%,#f4f4f4 42.0%,#f4f4f4 44.0%,#f5f5f5 46.0%,#f5f5f5 48.0%,#f5f5f5 50.0%,#f5f5f5 52.0%,#f5f5f5 54.0%,#f4f4f4 56.0%,#f4f4f4 58.0%,#f4f4f4 60.0%,#f3f3f3 62.0%,#f2f2f2 64.0%,#f1f1f1 66.0%,#f0f0f0 68.0%,#efefef 70.0%,#eeeeee 72.0%,#ededed 74.0%,#ebebeb 76.0%,#eaeaea 78.0%,#e8e8e8 80.0%,#e6e6e6 82.0%,#e4e4e4 84.0%,#e2e2e2 86.0%,#dfdfdf 88.0%,#dddddd 90.0%,#dadada 92.0%,#d7d7d7 94.0%,#d4d4d4 96.0%,#d1d1d1 98.0%,#cdcdcd 100.0%)"></div>
<div style="height:5px;background:linear-gradient(90deg,#cdcdcd 0.0%,#d1d1d1 2.0%,#d4d4d4 4.0%,#d7d7d7 6.0%,#dadada 8.0%,#dddddd 10.0%,#dfdfdf 12.0%,#e1e1e1 14.0%,#e4e4e4 16.0%,#e6e6e6 18.0%,#e7e7e7 20.0%,#e9e9e9 22.0%,#ebebeb 24.0%,#ececec 26.0%,#eeeeee 28.0%,#efefef 30.0%,#f0f0f0 32.0%,#f1f1f1 34.0%,#f2f2f2 36.0%,#f2f2f2 38.0%,#f3f3f3 40.0%,#f4f4f4 42.0%,#f4f4f4 44.0%,#f4f4f4 46.0%,#f4f4f4 48.0%,#f4f4f4 50.0%,#f4f4f4 52.0%,#f4f4f4 54.0%,#f4f4f4 56.0%,#f4f4f4 58.0%,#f3f3f3 60.0%,#f2f2f2 62.0%,#f2f2f2 64.0%,#f1f1f1 66.0%,#f0f0f0 68.0%,#efefef 70.0%,#eeeeee 72.0%,#ececec 74.0%,#ebebeb 76.0%,#e9e9e9 78.0%,#e7e7e7 80.0%,#e6e6e6 82.0%,#e4e4e4 84.0%,#e1e1e1 86.0%,#dfdfdf 88.0%,#dddddd 90.0%,#dadada 92.0%,#d7d7d7 94.0%,#d4d4d4 96.0%,#d1d1d1 98.0%,#cdcdcd 100.0%)"></div>
<div style="height:5px;background:linear-gradient(90deg,#cdcdcd 0.0%,#d1d1d1 2.0%,#d4d4d4 4.0%,#d7d7d7 6.0%,#dadada 8.0%,#dcdcdc 10.0%,#dfdfdf 12.0%,#e1e1e1 14.0%,#e3e3e3 16.0%,#e5e5e5 18.0%,#e7e7e7 20.0%,#e9e9e9 22.0%,#eaeaea 24.0%,#ececec 26.0%,#ededed 28.0%,#eeeeee 30.0%,#efefef 32.0%,#f0f0f0 34.0%,#f1f1f1 36.0%,#f2f2f2 38.0%,#f2f2f2 40.0%,#f3f3f3 42.0%,#f3f3f3 44.0%,#f4f4f4 46.0%,#f4f4f4 48.0%,#f4f4f4 50.0%,#f4f4f4 52.0%,#f4f4f4 54.0%,#f3f3f3 56.0%,#f3f3f3 58.0%,#f2f2f2 60.0%,#f2f2f2 62.0%,#f1f1f1 64.0%,#f0f0f0 66.0%,#efefef 68.0%,#eeeeee 70.0%,#ededed 72.0%,#ececec 74.0%,#eaeaea 76.0%,#e9e9e9 78.0%,#e7e7e7 80.0%,#e5e5e5 82.0%,#e3e3e3 84.0%,#e1e1e1 86.0%,#dfdfdf 88.0%,#dcdcdc 90.0%,#dadada 92.0%,#d7d7d7 94.0%,#d4d4d4 96.0%,#d1d1d1 98.0%,#cdcdcd 100.0%)"></div>
<div style="height:5px;background:linear-gradient(90deg,#cdcdcd 0.0%,#d1d1d1 2.0%,#d4d4d4 4.0%,#d7d7d7 6.0%,#d9d9d9 8.0%,#dcdcdc 10.0%,#dfdfdf 12.0%,#e1e1e1 14.0%,#e3e3e3 16.0%,#e5e5e5 18.0%,#e7e7e7 20.0%,#e8e8e8 22.0%,#eaeaea 24.0%,#ebebeb 26.0%,#ededed 28.0%,#eeeeee 30.0%,#efefef 32.0%,#f0f0f0 34.0%,#f1f1f1 36.0%,#f1f1f1 38.0%,#f2f2f2 40.0%,#f2f2f2 42.0%,#f3f3f3 44.0%,#f3f3f3 46.0%,#f3f3f3 48.0%,#f3f3f3 50.0%,#f3f3f3 52.0%,#f3f3f3 54.0%,#f3f3f3 56.0%,#f2f2f2 58.0%,#f2f2f2 60.0%,#f1f1f1 62.0%,#f1f1f1 64.0%,#f0f0f0 66.0%,#efefef 68.0%,#eeeeee 70.0%,#ededed 72.0%,#ebebeb 74.0%,#eaeaea 76.0%,#e8e8e8 78.0%,#e7e7e7 80.0%,#e5e5e5 82.0%,#e3e3e3 84.0%,#e1e1e1 86.0%,#dfdfdf 88.0%,#dcdcdc 90.0%,#d9d9d9 92.0%,#d7d7d7 94.0%,#d4d4d4 96.0%,#d1d1d1 98.0%,#cdcdcd 100.0%)"></div>
<div style="height:5px;background:linear-gradient(90deg,#cdcdcd 0.0%,#d1d1d1 2.0%,#d4d4d4 4.0%,#d7d7d7 6.0%,#d9d9d9 8.0%,#dcdcdc 10.0%,#dedede 12.0%,#e0e0e0 14.0%,#e3e3e3 16.0%,#e4e4e4 18.0%,#e6e6e6 20.0%,#e8e8e8 22.0%,#eaeaea 24.0%,#ebebeb 26.0%,#ececec 28.0%,#ededed 30.0%,#eeeeee 32.0%,#efefef 34.0%,#f0f0f0 36.0%,#f1f1f1 38.0%,#f1f1f1 40.0%,#f2f2f2 42.0%,#f2f2f2 44.0%,#f3f3f3 46.0%,#f3f3f3 48.0%,#f3f3f3 50.0%,#f3f3f3 52.0%,#f3f3f3 54.0%,#f2f2f2 56.0%,#f2f2f2 58.0%,#f1f1f1 60.0%,#f1f1f1 62.0%,#f0f0f0 64.0%,#efefef 66.0%,#eeeeee 68.0%,#ededed 70.0%,#ececec 72.0%,#ebebeb 74.0%,#eaeaea 76.0%,#e8e8e8 78.0%,#e6e6e6 80.0%,#e4e4e4 82.0%,#e3e3e3 84.0%,#e0e0e0 86.0%,#dedede 88.0%,#dcdcdc 90.0%,#d9d9d9 92.0%,#d7d7d7 94.0%,#d4d4d4 96.0%,#d1d1d1 98.0%,#cdcdcd 100.0%)"></div>
<div style="height:5px;background:linear-gradient(90deg,#cdcdcd 0.0%,#d0d0d0 2.0%,#d3d3d3 4.0%,#d6d6d6 6.0%,#d9d9d9 8.0%,#dcdcdc 10.0%,#dedede 12.0%,#e0e0e0 14.0%,#e2e2e2 16.0%,#e4e4e4 18.0%,#e6e6e6 20.0%,#e8e8e8 22.0%,#e9e9e9 24.0%,#eaeaea 26.0%,#ececec 28.0%,#ededed 30.0%,#eeeeee 32.0%,#efefef 34.0%,#f0f0f0 36.0%,#f0f0f0 38.0%,#f1f1f1 40.0%,#f1f1f1 42.0%,#f2f2f2 44.0%,#f2f2f2 46.0%,#f2f2f2 48.0%,#f2f2f2 50.0%,#f2f2f2 52.0%,#f2f2f2 54.0%,#f2f2f2 56.0%,#f1f1f1 58.0%,#f1f1f1 60.0%,#f0f0f0 62.0%,#f0f0f0 64.0%,#efefef 66.0%,#eeeeee 68.0%,#ededed 70.0%,#ececec 72.0%,#eaeaea 74.0%,#e9e9e9 76.0%,#e8e8e8 78.0%,#e6e6e6 80.0%,#e4e4e4 82.0%,#e2e2e2 84.0%,#e0e0e0 86.0%,#dedede 88.0%,#dcdcdc 90.0%,#d9d9d9 92.0%,#d6d6d6 94.0%,#d3d3d3 96.0%,#d0d0d0 98.0%,#cdcdcd 100.0%)"></div>
<div style="height:5px;background:linear-gradient(90deg,#cdcdcd 0.0%,#d0d0d0 2.0%,#d3d3d3 4.0%,#d6d6d6 6.0%,#d9d9d9 8.0%,#dbdbdb 10.0%,#dedede 12.0%,#e0e0e0 14.0%,#e2e2e2 16.0%,#e4e4e4 18.0%,#e6e6e6 20.0%,#e7e7e7 22.0%,#e9e9e9 24.0%,#eaeaea 26.0%,#ebebeb 28.0%,#ececec 30.0%,#ededed 32.0%,#eeeeee 34.0%,#efefef 36.0%,#f0f0f0 38.0%,#f0f0f0 40.0%,#f1f1f1 42.0%,#f1f1f1 44.0%,#f2f2f2 46.0%,#f2f2f2 48.0%,#f2f2f2 50.0%,#f2f2f2 52.0%,#f2f2f2 54.0%,#f1f1f1 56.0%,#f1f1f1 58.0%,#f0f0f0 60.0%,#f0f0f0 62.0%,#efefef 64.0%,#eeeeee 66.0%,#ededed 68.0%,#ececec 70.0%,#ebebeb 72.0%,#eaeaea 74.0%,#e9e9e9 76.0%,#e7e7e7 78.0%,#e6e6e6 80.0%,#e4e4e4 82.0%,#e2e2e2 84.0%,#e0e0e0 86.0%,#dedede 88.0%,#dbdbdb 90.0%,#d9d9d9 92.0%,#d6d6d6 94.0%,#d3d3d3 96.0%,#d0d0d0 98.0%,#cdcdcd 100.0%)"></div>
<div style="height:5px;background:linear-gradient(90deg,#cdcdcd 0.0%,#d0d0d0 2.0%,#d3d3d3 4.0%,#d6d6d6 6.0%,#d9d9d9 8.0%,#dbdbdb 10.0%,#dddddd 12.0%,#dfdfdf 14.0%,#e2e2e2 16.0%,#e3e3e3 18.0%,#e5e5e5 20.0%,#e7e7e7 22.0%,#e8e8e8 24.0%,#eaeaea 26.0%,#ebebeb 28.0%,#ececec 30.0%,#ededed 32.0%,#eeeeee 34.0%,#efefef 36.0%,#efefef 38.0%,#f0f0f0 40.0%,#f0f0f0 42.0%,#f1f1f1 44.0%,#f1f1f1 46.0%,#f1f1f1 48.0%,#f1f1f1 50.0%,#f1f1f1 52.0%,#f1f1f1 54.0%,#f1f1f1 56.0%,#f0f0f0 58.0%,#f0f0f0 60.0%,#efefef 62.0%,#efefef 64.0%,#eeeeee 66.0%,#ededed 68.0%,#ececec 70.0%,#ebebeb 72.0%,#eaeaea 74.0%,#e8e8e8 76.0%,#e7e7e7 78.0%,#e5e5e5 80.0%,#e3e3e3 82.0%,#e2e2e2 84.0%,#dfdfdf 86.0%,#dddddd 88.0%,#dbdbdb 90.0%,#d9d9d9 92.0%,#d6d6d6 94.0%,#d3d3d3 96.0%,#d0d0d0 98.0%,#cdcdcd 100.0%)"></div>
<div style="height:5px;background:linear-gradient(90deg,#cdcdcd 0.0%,#d0d0d0 2.0%,#d3d3d3 4.0%,#d6d6d6 6.0%,#d8d8d8 8.0%,#dbdbdb 10.0%,#dddddd 12.0%,#dfdfdf 14.0%,#e1e1e1 16.0%,#e3e3e3 18.0%,#e5e5e5 20.0%,#e6e6e6 22.0%,#e8e8e8 24.0%,#e9e9e9 26.0%,#eaeaea 28.0%,#ebebeb 30.0%,#ededed 32.0%,#ededed 34.0%,#eeeeee 36.0%,#efefef 38.0%,#efefef 40.0%,#f0f0f0 42.0%,#f0f0f0 44.0%,#f1f1f1 46.0%,#f1f1f1 48.0%,#f1f1f1 50.0%,#f1f1f1 52.0%,#f1f1f1 54.0%,#f0f0f0 56.0%,#f0f0f0 58.0%,#efefef 60.0%,#efefef 62.0%,#eeeeee 64.0%,#ededed 66.0%,#ededed 68.0%,#ebebeb 70.0%,#eaeaea 72.0%,#e9e9e9 74.0%,#e8e8e8 76.0%,#e6e6e6 78.0%,#e5e5e5 80.0%,#e3e3e3 82.0%,#e1e1e1 84.0%,#dfdfdf 86.0%,#dddddd 88.0%,#dbdbdb 90.0%,#d8d8d8 92.0%,#d6d6d6 94.0%,#d3d3d3 96.0%,#d0d0d0 98.0%,#cdcdcd 100.0%)"></div>
<div style="height:5px;background:linear-gradient(90deg,#cdcdcd 0.0%,#d0d0d0 2.0%,#d3d3d3 4.0%,#d5d5d5 6.0%,#d8d8d8 8.0%,#dadada 10.0%,#dddddd 12.0%,#dfdfdf 14.0%,#e1e1e1 16.0%,#e3e3e3 18.0%,#e4e4e4 20.0%,#e6e6e6 22.0%,#e7e7e7 24.0%,#e9e9e9 26.0%,#eaeaea 28.0%,#ebebeb 30.0%,#ececec 32.0%,#ededed 34.0%,#eeeeee 36.0%,#eeeeee 38.0%,#efefef 40.0%,#efefef 42.0%,#f0f0f0 44.0%,#f0f0f0 46.0%,#f0f0f0 48.0%,#f0f0f0 50.0%,#f0f0f0 52.0%,#f0f0f0 54.0%,#f0f0f0 56.0%,#efefef 58.0%,#efefef 60.0%,#eeeeee 62.0%,#eeeeee 64.0%,#ededed 66.0%,#ececec 68.0%,#ebebeb 70.0%,#eaeaea 72.0%,#e9e9e9 74.0%,#e7e7e7 76.0%,#e6e6e6 78.0%,#e4e4e4 80.0%,#e3e3e3 82.0%,#e1e1e1 84.0%,#dfdfdf 86.0%,#dddddd 88.0%,#dadada 90.0%,#d8d8d8 92.0%,#d5d5d5 94.0%,#d3d3d3 96.0%,#d0d0d0 98.0%,#cdcdcd 100.0%)"></div>
<div style="height:5px;background:linear-gradient(90deg,#cdcdcd 0.0%,#d0d0d0 2.0%,#d3d3d3 4.0%,#d5d5d5 6.0%,#d8d8d8 8.0%,#dadada 10.0%,#dcdcdc 12.0%,#dedede 14.0%,#e0e0e0 16.0%,#e2e2e2 18.0%,#e4e4e4 20.0%,#e5e5e5 22.0%,#e7e7e7 24.0%,#e8e8e8 26.0%,#e9e9e9 28.0%,#ebebeb 30.0%,#ececec 32.0%,#ececec 34.0%,#ededed 36.0%,#eeeeee 38.0%,#eeeeee 40.0%,#efefef 42.0%,#efefef 44.0%,#efefef 46.0%,#f0f0f0 48.0%,#f0f0f0 50.0%,#f0f0f0 52.0%,#efefef 54.0%,#efefef 56.0%,#efefef 58.0%,#eeeeee 60.0%,#eeeeee 62.0%,#ededed 64.0%,#ececec 66.0%,#ececec 68.0%,#ebebeb 70.0%,#e9e9e9 72.0%,#e8e8e8 74.0%,#e7e7e7 76.0%,#e5e5e5 78.0%,#e4e4e4 80.0%,#e2e2e2 82.0%,#e0e0e0 84.0%,#dedede 86.0%,#dcdcdc 88.0%,#dadada 90.0%,#d8d8d8 92.0%,#d5d5d5 94.0%,#d3d3d3 96.0%,#d0d0d0 98.0%,#cdcdcd 100.0%)"></div>
<div style="height:5px;background:linear-gradient(90deg,#cdcdcd 0.0%,#d0d0d0 2.0%,#d2d2d2 4.0%,#d5d5d5 6.0%,#d8d8d8 8.0%,#dadada 10.0%,#dcdcdc 12.0%,#dedede 14.0%,#e0e0e0 16.0%,#e2e2e2 18.0%,#e4e4e4 20.0%,#e5e5e5 22.0%,#e6e6e6 24.0%,#e8e8e8 26.0%,#e9e9e9 28.0%,#eaeaea 30.0%,#ebebeb 32.0%,#ececec 34.0%,#ededed 36.0%,#ededed 38.0%,#eeeeee 40.0%,#eeeeee 42.0%,#efefef 44.0%,#efefef 46.0%,#efefef 48.0%,#efefef 50.0%,#efefef 52.0%,#efefef 54.0%,#efefef 56.0%,#eeeeee 58.0%,#eeeeee 60.0%,#ededed 62.0%,#ededed 64.0%,#ececec 66.0%,#ebebeb 68.0%,#eaeaea 70.0%,#e9e9e9 72.0%,#e8e8e8 74.0%,#e6e6e6 76.0%,#e5e5e5 78.0%,#e4e4e4 80.0%,#e2e2e2 82.0%,#e0e0e0 84.0%,#dedede 86.0%,#dcdcdc 88.0%,#dadada 90.0%,#d8d8d8 92.0%,#d5d5d5 94.0%,#d2d2d2 96.0%,#d0d0d0 98.0%,#cdcdcd 100.0%)"></div>
<div style="height:5px;background:linear-gradient(90deg,#cccccc 0.0%,#cfcfcf 2.0%,#d2d2d2 4.0%,#d5d5d5 6.0%,#d7d7d7 8.0%,#dadada 10.0%,#dcdcdc 12.0%,#dedede 14.0%,#e0e0e0 16.0%,#e1e1e1 18.0%,#e3e3e3 20.0%,#e5e5e5 22.0%,#e6e6e6 24.0%,#e7e7e7 26.0%,#e9e9e9 28.0%,#eaeaea 30.0%,#ebebeb 32.0%,#ebebeb 34.0%,#ececec 36.0%,#ededed 38.0%,#ededed 40.0%,#eeeeee 42.0%,#eeeeee 44.0%,#eeeeee 46.0%,#efefef 48.0%,#efefef 50.0%,#efefef 52.0%,#eeeeee 54.0%,#eeeeee 56.0%,#eeeeee 58.0%,#ededed 60.0%,#ededed 62.0%,#ececec 64.0%,#ebebeb 66.0%,#ebebeb 68.0%,#eaeaea 70.0%,#e9e9e9 72.0%,#e7e7e7 74.0%,#e6e6e6 76.0%,#e5e5e5 78.0%,#e3e3e3 80.0%,#e1e1e1 82.0%,#e0e0e0 84.0%,#dedede 86.0%,#dcdcdc 88.0%,#dadada 90.0%,#d7d7d7 92.0%,#d5d5d5 94.0%,#d2d2d2 96.0%,#cfcfcf 98.0%,#cccccc 100.0%)"></div>
<div style="height:5px;background:linear-gradient(90deg,#cccccc 0.0%,#cfcfcf 2.0%,#d2d2d2 4.0%,#d5d5d5 6.0%,#d7d7d7 8.0%,#d9d9d9 10.0%,#dbdbdb 12.0%,#dddddd 14.0%,#dfdfdf 16.0%,#e1e1e1 18.0%,#e3e3e3 20.0%,#e4e4e4 22.0%,#e6e6e6 24.0%,#e7e7e7 26.0%,#e8e8e8 28.0%,#e9e9e9 30.0%,#eaeaea 32.0%,#ebebeb 34.0%,#ececec 36.0%,#ececec 38.0%,#ededed 40.0%,#ededed 42.0%,#eeeeee 44.0%,#eeeeee 46.0%,#eeeeee 48.0%,#eeeeee 50.0%,#eeeeee 52.0%,#eeeeee 54.0%,#eeeeee 56.0%,#ededed 58.0%,#ededed 60.0%,#ececec 62.0%,#ececec 64.0%,#ebebeb 66.0%,#eaeaea 68.0%,#e9e9e9 70.0%,#e8e8e8 72.0%,#e7e7e7 74.0%,#e6e6e6 76.0%,#e4e4e4 78.0%,#e3e3e3 80.0%,#e1e1e1 82.0%,#dfdfdf 84.0%,#dddddd 86.0%,#dbdbdb 88.0%,#d9d9d9 90.0%,#d7d7d7 92.0%,#d5d5d5 94.0%,#d2d2d2 96.0%,#cfcfcf 98.0%,#cccccc 100.0%)"></div>
<div style="height:5px;background:linear-gradient(90deg,#cccccc 0.0%,#cfcfcf 2.0%,#d2d2d2 4.0%,#d4d4d4 6.0%,#d7d7d7 8.0%,#d9d9d9 10.0%,#dbdbdb 12.0%,#dddddd 14.0%,#dfdfdf 16.0%,#e1e1e1 18.0%,#e2e2e2 20.0%,#e4e4e4 22.0%,#e5e5e5 24.0%,#e6e6e6 26.0%,#e8e8e8 28.0%,#e9e9e9 30.0%,#eaeaea 32.0%,#eaeaea 34.0%,#ebebeb 36.0%,#ececec 38.0%,#ececec 40.0%,#ededed 42.0%,#ededed 44.0%,#ededed 46.0%,#eeeeee 48.0%,#eeeeee 50.0%,#eeeeee 52.0%,#ededed 54.0%,#ededed 56.0%,#ededed 58.0%,#ececec 60.0%,#ececec 62.0%,#ebebeb 64.0%,#eaeaea 66.0%,#eaeaea 68.0%,#e9e9e9 70.0%,#e8e8e8 72.0%,#e6e6e6 74.0%,#e5e5e5 76.0%,#e4e4e4 78.0%,#e2e2e2 80.0%,#e1e1e1 82.0%,#dfdfdf 84.0%,#dddddd 86.0%,#dbdbdb 88.0%,#d9d9d9 90.0%,#d7d7d7 92.0%,#d4d4d4 94.0%,#d2d2d2 96.0%,#cfcfcf 98.0%,#cccccc 100.0%)"></div>
<div style="height:5px;background:linear-gradient(90deg,#cccccc 0.0%,#cfcfcf 2.0%,#d1d1d1 4.0%,#d4d4d4 6.0%,#d6d6d6 8.0%,#d9d9d9 10.0%,#dbdbdb 12.0%,#dddddd 14.0%,#dfdfdf 16.0%,#e0e0e0 18.0%,#e2e2e2 20.0%,#e3e3e3 22.0%,#e5e5e5 24.0%,#e6e6e6 26.0%,#e7e7e7 28.0%,#e8e8e8 30.0%,#e9e9e9 32.0%,#eaeaea 34.0%,#ebebeb 36.0%,#ebebeb 38.0%,#ececec 40.0%,#ececec 42.0%,#ededed 44.0%,#ededed 46.0%,#ededed 48.0%,#ededed 50.0%,#ededed 52.0%,#ededed 54.0%,#ededed 56.0%,#ececec 58.0%,#ececec 60.0%,#ebebeb 62.0%,#ebebeb 64.0%,#eaeaea 66.0%,#e9e9e9 68.0%,#e8e8e8 70.0%,#e7e7e7 72.0%,#e6e6e6 74.0%,#e5e5e5 76.0%,#e3e3e3 78.0%,#e2e2e2 80.0%,#e0e0e0 82.0%,#dfdfdf 84.0%,#dddddd 86.0%,#dbdbdb 88.0%,#d9d9d9 90.0%,#d6d6d6 92.0%,#d4d4d4 94.0%,#d1d1d1 96.0%,#cfcfcf 98.0%,#cccccc 100.0%)"></div>
<div style="height:5px;background:linear-gradient(90deg,#cccccc 0.0%,#cfcfcf 2.0%,#d1d1d1 4.0%,#d4d4d4 6.0%,#d6d6d6 8.0%,#d8d8d8 10.0%,#dadada 12.0%,#dcdcdc 14.0%,#dedede 16.0%,#e0e0e0 18.0%,#e1e1e1 20.0%,#e3e3e3 22.0%,#e4e4e4 24.0%,#e6e6e6 26.0%,#e7e7e7 28.0%,#e8e8e8 30.0%,#e9e9e9 32.0%,#e9e9e9 34.0%,#eaeaea 36.0%,#ebebeb 38.0%,#ebebeb 40.0%,#ececec 42.0%,#ececec 44.0%,#ececec 46.0%,#ececec 48.0%,#ededed 50.0%,#ececec 52.0%,#ececec 54.0%,#ececec 56.0%,#ececec 58.0%,#ebebeb 60.0%,#ebebeb 62.0%,#eaeaea 64.0%,#e9e9e9 66.0%,#e9e9e9 68.0%,#e8e8e8 70.0%,#e7e7e7 72.0%,#e6e6e6 74.0%,#e4e4e4 76.0%,#e3e3e3 78.0%,#e1e1e1 80.0%,#e0e0e0 82.0%,#dedede 84.0%,#dcdcdc 86.0%,#dadada 88.0%,#d8d8d8 90.0%,#d6d6d6 92.0%,#d4d4d4 94.0%,#d1d1d1 96.0%,#cfcfcf 98.0%,#cccccc 100.0%)"></div>
<div style="height:5px;background:linear-gradient(90deg,#cccccc 0.0%,#cecece 2.0%,#d1d1d1 4.0%,#d3d3d3 6.0%,#d6d6d6 8.0%,#d8d8d8 10.0%,#dadada 12.0%,#dcdcdc 14.0%,#dedede 16.0%,#dfdfdf 18.0%,#e1e1e1 20.0%,#e2e2e2 22.0%,#e4e4e4 24.0%,#e5e5e5 26.0%,#e6e6e6 28.0%,#e7e7e7 30.0%,#e8e8e8 32.0%,#e9e9e9 34.0%,#eaeaea 36.0%,#eaeaea 38.0%,#ebebeb 40.0%,#ebebeb 42.0%,#ececec 44.0%,#ececec 46.0%,#ececec 48.0%,#ececec 50.0%,#ececec 52.0%,#ececec 54.0%,#ececec 56.0%,#ebebeb 58.0%,#ebebeb 60.0%,#eaeaea 62.0%,#eaeaea 64.0%,#e9e9e9 66.0%,#e8e8e8 68.0%,#e7e7e7 70.0%,#e6e6e6 72.0%,#e5e5e5 74.0%,#e4e4e4 76.0%,#e2e2e2 78.0%,#e1e1e1 80.0%,#dfdfdf 82.0%,#dedede 84.0%,#dcdcdc 86.0%,#dadada 88.0%,#d8d8d8 90.0%,#d6d6d6 92.0%,#d3d3d3 94.0%,#d1d1d1 96.0%,#cecece 98.0%,#cccccc 100.0%)"></div>
<div style="height:5px;background:linear-gradient(90deg,#cbcbcb 0.0%,#cecece 2.0%,#d1d1d1 4.0%,#d3d3d3 6.0%,#d5d5d5 8.0%,#d8d8d8 10.0%,#dadada 12.0%,#dcdcdc 14.0%,#dddddd 16.0%,#dfdfdf 18.0%,#e1e1e1 20.0%,#e2e2e2 22.0%,#e3e3e3 24.0%,#e5e5e5 26.0%,#e6e6e6 28.0%,#e7e7e7 30.0%,#e8e8e8 32.0%,#e8e8e8 34.0%,#e9e9e9 36.0%,#eaeaea 38.0%,#eaeaea 40.0%,#ebebeb 42.0%,#ebebeb 44.0%,#ebebeb 46.0%,#ebebeb 48.0%,#ebebeb 50.0%,#ebebeb 52.0%,#ebebeb 54.0%,#ebebeb 56.0%,#ebebeb 58.0%,#eaeaea 60.0%,#eaeaea 62.0%,#e9e9e9 64.0%,#e8e8e8 66.0%,#e8e8e8 68.0%,#e7e7e7 70.0%,#e6e6e6 72.0%,#e5e5e5 74.0%,#e3e3e3 76.0%,#e2e2e2 78.0%,#e1e1e1 80.0%,#dfdfdf 82.0%,#dddddd 84.0%,#dcdcdc 86.0%,#dadada 88.0%,#d8d8d8 90.0%,#d5d5d5 92.0%,#d3d3d3 94.0%,#d1d1d1 96.0%,#cecece 98.0%,#cbcbcb 100.0%)"></div>
<div style="height:5px;background:linear-gradient(90deg,#cbcbcb 0.0%,#cecece 2.0%,#d0d0d0 4.0%,#d3d3d3 6.0%,#d5d5d5 8.0%,#d7d7d7 10.0%,#d9d9d9 12.0%,#dbdbdb 14.0%,#dddddd 16.0%,#dfdfdf 18.0%,#e0e0e0 20.0%,#e2e2e2 22.0%,#e3e3e3 24.0%,#e4e4e4 26.0%,#e5e5e5 28.0%,#e6e6e6 30.0%,#e7e7e7 32.0%,#e8e8e8 34.0%,#e9e9e9 36.0%,#e9e9e9 38.0%,#eaeaea 40.0%,#eaeaea 42.0%,#ebebeb 44.0%,#ebebeb 46.0%,#ebebeb 48.0%,#ebebeb 50.0%,#ebebeb 52.0%,#ebebeb 54.0%,#ebebeb 56.0%,#eaeaea 58.0%,#eaeaea 60.0%,#e9e9e9 62.0%,#e9e9e9 64.0%,#e8e8e8 66.0%,#e7e7e7 68.0%,#e6e6e6 70.0%,#e5e5e5 72.0%,#e4e4e4 74.0%,#e3e3e3 76.0%,#e2e2e2 78.0%,#e0e0e0 80.0%,#dfdfdf 82.0%,#dddddd 84.0%,#dbdbdb 86.0%,#d9d9d9 88.0%,#d7d7d7 90.0%,#d5d5d5 92.0%,#d3d3d3 94.0%,#d0d0d0 96.0%,#cecece 98.0%,#cbcbcb 100.0%)"></div>
<div style="height:5px;background:linear-gradient(90deg,#cbcbcb 0.0%,#cecece 2.0%,#d0d0d0 4.0%,#d3d3d3 6.0%,#d5d5d5 8.0%,#d7d7d7 10.0%,#d9d9d9 12.0%,#dbdbdb 14.0%,#dddddd 16.0%,#dedede 18.0%,#e0e0e0 20.0%,#e1e1e1 22.0%,#e2e2e2 24.0%,#e4e4e4 26.0%,#e5e5e5 28.0%,#e6e6e6 30.0%,#e7e7e7 32.0%,#e7e7e7 34.0%,#e8e8e8 36.0%,#e9e9e9 38.0%,#e9e9e9 40.0%,#eaeaea 42.0%,#eaeaea 44.0%,#eaeaea 46.0%,#eaeaea 48.0%,#eaeaea 50.0%,#eaeaea 52.0%,#eaeaea 54.0%,#eaeaea 56.0%,#eaeaea 58.0%,#e9e9e9 60.0%,#e9e9e9 62.0%,#e8e8e8 64.0%,#e7e7e7 66.0%,#e7e7e7 68.0%,#e6e6e6 70.0%,#e5e5e5 72.0%,#e4e4e4 74.0%,#e2e2e2 76.0%,#e1e1e1 78.0%,#e0e0e0 80.0%,#dedede 82.0%,#dddddd 84.0%,#dbdbdb 86.0%,#d9d9d9 88.0%,#d7d7d7 90.0%,#d5d5d5 92.0%,#d3d3d3 94.0%,#d0d0d0 96.0%,#cecece 98.0%,#cbcbcb 100.0%)"></div>
<div style="height:5px;background:linear-gradient(90deg,#cbcbcb 0.0%,#cdcdcd 2.0%,#d0d0d0 4.0%,#d2d2d2 6.0%,#d5d5d5 8.0%,#d7d7d7 10.0%,#d9d9d9 12.0%,#dadada 14.0%,#dcdcdc 16.0%,#dedede 18.0%,#dfdfdf 20.0%,#e1e1e1 22.0%,#e2e2e2 24.0%,#e3e3e3 26.0%,#e4e4e4 28.0%,#e5e5e5 30.0%,#e6e6e6 32.0%,#e7e7e7 34.0%,#e8e8e8 36.0%,#e8e8e8 38.0%,#e9e9e9 40.0%,#e9e9e9 42.0%,#eaeaea 44.0%,#eaeaea 46.0%,#eaeaea 48.0%,#eaeaea 50.0%,#eaeaea 52.0%,#eaeaea 54.0%,#eaeaea 56.0%,#e9e9e9 58.0%,#e9e9e9 60.0%,#e8e8e8 62.0%,#e8e8e8 64.0%,#e7e7e7 66.0%,#e6e6e6 68.0%,#e5e5e5 70.0%,#e4e4e4 72.0%,#e3e3e3 74.0%,#e2e2e2 76.0%,#e1e1e1 78.0%,#dfdfdf 80.0%,#dedede 82.0%,#dcdcdc 84.0%,#dadada 86.0%,#d9d9d9 88.0%,#d7d7d7 90.0%,#d5d5d5 92.0%,#d2d2d2 94.0%,#d0d0d0 96.0%,#cdcdcd 98.0%,#cbcbcb 100.0%)"></div>
<div style="height:5px;background:linear-gradient(90deg,#cbcbcb 0.0%,#cdcdcd 2.0%,#d0d0d0 4.0%,#d2d2d2 6.0%,#d4d4d4 8.0%,#d6d6d6 10.0%,#d8d8d8 12.0%,#dadada 14.0%,#dcdcdc 16.0%,#dddddd 18.0%,#dfdfdf 20.0%,#e0e0e0 22.0%,#e2e2e2 24.0%,#e3e3e3 26.0%,#e4e4e4 28.0%,#e5e5e5 30.0%,#e6e6e6 32.0%,#e6e6e6 34.0%,#e7e7e7 36.0%,#e8e8e8 38.0%,#e8e8e8 40.0%,#e9e9e9 42.0%,#e9e9e9 44.0%,#e9e9e9 46.0%,#e9e9e9 48.0%,#e9e9e9 50.0%,#e9e9e9 52.0%,#e9e9e9 54.0%,#e9e9e9 56.0%,#e9e9e9 58.0%,#e8e8e8 60.0%,#e8e8e8 62.0%,#e7e7e7 64.0%,#e6e6e6 66.0%,#e6e6e6 68.0%,#e5e5e5 70.0%,#e4e4e4 72.0%,#e3e3e3 74.0%,#e2e2e2 76.0%,#e0e0e0 78.0%,#dfdfdf 80.0%,#dddddd 82.0%,#dcdcdc 84.0%,#dadada 86.0%,#d8d8d8 88.0%,#d6d6d6 90.0%,#d4d4d4 92.0%,#d2d2d2 94.0%,#d0d0d0 96.0%,#cdcdcd 98.0%,#cbcbcb 100.0%)"></div>
<div style="height:5px;background:linear-gradient(90deg,#cacaca 0.0%,#cdcdcd 2.0%,#cfcfcf 4.0%,#d2d2d2 6.0%,#d4d4d4 8.0%,#d6d6d6 10.0%,#d8d8d8 12.0%,#dadada 14.0%,#dbdbdb 16.0%,#dddddd 18.0%,#dedede 20.0%,#e0e0e0 22.0%,#e1e1e1 24.0%,#e2e2e2 26.0%,#e3e3e3 28.0%,#e4e4e4 30.0%,#e5e5e5 32.0%,#e6e6e6 34.0%,#e7e7e7 36.0%,#e7e7e7 38.0%,#e8e8e8 40.0%,#e8e8e8 42.0%,#e8e8e8 44.0%,#e9e9e9 46.0%,#e9e9e9 48.0%,#e9e9e9 50.0%,#e9e9e9 52.0%,#e9e9e9 54.0%,#e8e8e8 56.0%,#e8e8e8 58.0%,#e8e8e8 60.0%,#e7e7e7 62.0%,#e7e7e7 64.0%,#e6e6e6 66.0%,#e5e5e5 68.0%,#e4e4e4 70.0%,#e3e3e3 72.0%,#e2e2e2 74.0%,#e1e1e1 76.0%,#e0e0e0 78.0%,#dedede 80.0%,#dddddd 82.0%,#dbdbdb 84.0%,#dadada 86.0%,#d8d8d8 88.0%,#d6d6d6 90.0%,#d4d4d4 92.0%,#d2d2d2 94.0%,#cfcfcf 96.0%,#cdcdcd 98.0%,#cacaca 100.0%)"></div>
<div style="height:5px;background:linear-gradient(90deg,#cacaca 0.0%,#cdcdcd 2.0%,#cfcfcf 4.0%,#d1d1d1 6.0%,#d4d4d4 8.0%,#d6d6d6 10.0%,#d7d7d7 12.0%,#d9d9d9 14.0%,#dbdbdb 16.0%,#dddddd 18.0%,#dedede 20.0%,#dfdfdf 22.0%,#e1e1e1 24.0%,#e2e2e2 26.0%,#e3e3e3 28.0%,#e4e4e4 30.0%,#e5e5e5 32.0%,#e5e5e5 34.0%,#e6e6e6 36.0%,#e7e7e7 38.0%,#e7e7e7 40.0%,#e8e8e8 42.0%,#e8e8e8 44.0%,#e8e8e8 46.0%,#e8e8e8 48.0%,#e8e8e8 50.0%,#e8e8e8 52.0%,#e8e8e8 54.0%,#e8e8e8 56.0%,#e8e8e8 58.0%,#e7e7e7 60.0%,#e7e7e7 62.0%,#e6e6e6 64.0%,#e5e5e5 66.0%,#e5e5e5 68.0%,#e4e4e4 70.0%,#e3e3e3 72.0%,#e2e2e2 74.0%,#e1e1e1 76.0%,#dfdfdf 78.0%,#dedede 80.0%,#dddddd 82.0%,#dbdbdb 84.0%,#d9d9d9 86.0%,#d7d7d7 88.0%,#d6d6d6 90.0%,#d4d4d4 92.0%,#d1d1d1 94.0%,#cfcfcf 96.0%,#cdcdcd 98.0%,#cacaca 100.0%)"></div>
<div style="height:5px;background:linear-gradient(90deg,#cacaca 0.0%,#cccccc 2.0%,#cfcfcf 4.0%,#d1d1d1 6.0%,#d3d3d3 8.0%,#d5d5d5 10.0%,#d7d7d7 12.0%,#d9d9d9 14.0%,#dbdbdb 16.0%,#dcdcdc 18.0%,#dedede 20.0%,#dfdfdf 22.0%,#e0e0e0 24.0%,#e1e1e1 26.0%,#e2e2e2 28.0%,#e3e3e3 30.0%,#e4e4e4 32.0%,#e5e5e5 34.0%,#e6e6e6 36.0%,#e6e6e6 38.0%,#e7e7e7 40.0%,#e7e7e7 42.0%,#e7e7e7 44.0%,#e8e8e8 46.0%,#e8e8e8 48.0%,#e8e8e8 50.0%,#e8e8e8 52.0%,#e8e8e8 54.0%,#e7e7e7 56.0%,#e7e7e7 58.0%,#e7e7e7 60.0%,#e6e6e6 62.0%,#e6e6e6 64.0%,#e5e5e5 66.0%,#e4e4e4 68.0%,#e3e3e3 70.0%,#e2e2e2 72.0%,#e1e1e1 74.0%,#e0e0e0 76.0%,#dfdfdf 78.0%,#dedede 80.0%,#dcdcdc 82.0%,#dbdbdb 84.0%,#d9d9d9 86.0%,#d7d7d7 88.0%,#d5d5d5 90.0%,#d3d3d3 92.0%,#d1d1d1 94.0%,#cfcfcf 96.0%,#cccccc 98.0%,#cacaca 100.0%)"></div>
<div style="height:5px;background:linear-gradient(90deg,#cacaca 0.0%,#cccccc 2.0%,#cfcfcf 4.0%,#d1d1d1 6.0%,#d3d3d3 8.0%,#d5d5d5 10.0%,#d7d7d7 12.0%,#d9d9d9 14.0%,#dadada 16.0%,#dcdcdc 18.0%,#dddddd 20.0%,#dedede 22.0%,#e0e0e0 24.0%,#e1e1e1 26.0%,#e2e2e2 28.0%,#e3e3e3 30.0%,#e4e4e4 32.0%,#e4e4e4 34.0%,#e5e5e5 36.0%,#e6e6e6 38.0%,#e6e6e6 40.0%,#e7e7e7 42.0%,#e7e7e7 44.0%,#e7e7e7 46.0%,#e7e7e7 48.0%,#e7e7e7 50.0%,#e7e7e7 52.0%,#e7e7e7 54.0%,#e7e7e7 56.0%,#e7e7e7 58.0%,#e6e6e6 60.0%,#e6e6e6 62.0%,#e5e5e5 64.0%,#e4e4e4 66.0%,#e4e4e4 68.0%,#e3e3e3 70.0%,#e2e2e2 72.0%,#e1e1e1 74.0%,#e0e0e0 76.0%,#dedede 78.0%,#dddddd 80.0%,#dcdcdc 82.0%,#dadada 84.0%,#d9d9d9 86.0%,#d7d7d7 88.0%,#d5d5d5 90.0%,#d3d3d3 92.0%,#d1d1d1 94.0%,#cfcfcf 96.0%,#cccccc 98.0%,#cacaca 100.0%)"></div>
<div style="height:5px;background:linear-gradient(90deg,#c9c9c9 0.0%,#cccccc 2.0%,#cecece 4.0%,#d0d0d0 6.0%,#d3d3d3 8.0%,#d5d5d5 10.0%,#d6d6d6 12.0%,#d8d8d8 14.0%,#dadada 16.0%,#dbdbdb 18.0%,#dddddd 20.0%,#dedede 22.0%,#dfdfdf 24.0%,#e0e0e0 26.0%,#e1e1e1 28.0%,#e2e2e2 30.0%,#e3e3e3 32.0%,#e4e4e4 34.0%,#e5e5e5 36.0%,#e5e5e5 38.0%,#e6e6e6 40.0%,#e6e6e6 42.0%,#e6e6e6 44.0%,#e7e7e7 46.0%,#e7e7e7 48.0%,#e7e7e7 50.0%,#e7e7e7 52.0%,#e7e7e7 54.0%,#e6e6e6 56.0%,#e6e6e6 58.0%,#e6e6e6 60.0%,#e5e5e5 62.0%,#e5e5e5 64.0%,#e4e4e4 66.0%,#e3e3e3 68.0%,#e2e2e2 70.0%,#e1e1e1 72.0%,#e0e0e0 74.0%,#dfdfdf 76.0%,#dedede 78.0%,#dddddd 80.0%,#dbdbdb 82.0%,#dadada 84.0%,#d8d8d8 86.0%,#d6d6d6 88.0%,#d5d5d5 90.0%,#d3d3d3 92.0%,#d0d0d0 94.0%,#cecece 96.0%,#cccccc 98.0%,#c9c9c9 100.0%)"></div>
<div style="height:5px;background:linear-gradient(90deg,#c9c9c9 0.0%,#cccccc 2.0%,#cecece 4.0%,#d0d0d0 6.0%,#d2d2d2 8.0%,#d4d4d4 10.0%,#d6d6d6 12.0%,#d8d8d8 14.0%,#d9d9d9 16.0%,#dbdbdb 18.0%,#dcdcdc 20.0%,#dedede 22.0%,#dfdfdf 24.0%,#e0e0e0 26.0%,#e1e1e1 28.0%,#e2e2e2 30.0%,#e3e3e3 32.0%,#e3e3e3 34.0%,#e4e4e4 36.0%,#e5e5e5 38.0%,#e5e5e5 40.0%,#e6e6e6 42.0%,#e6e6e6 44.0%,#e6e6e6 46.0%,#e6e6e6 48.0%,#e6e6e6 50.0%,#e6e6e6 52.0%,#e6e6e6 54.0%,#e6e6e6 56.0%,#e6e6e6 58.0%,#e5e5e5 60.0%,#e5e5e5 62.0%,#e4e4e4 64.0%,#e3e3e3 66.0%,#e3e3e3 68.0%,#e2e2e2 70.0%,#e1e1e1 72.0%,#e0e0e0 74.0%,#dfdfdf 76.0%,#dedede 78.0%,#dcdcdc 80.0%,#dbdbdb 82.0%,#d9d9d9 84.0%,#d8d8d8 86.0%,#d6d6d6 88.0%,#d4d4d4 90.0%,#d2d2d2 92.0%,#d0d0d0 94.0%,#cecece 96.0%,#cccccc 98.0%,#c9c9c9 100.0%)"></div>
<div style="height:5px;background:linear-gradient(90deg,#c9c9c9 0.0%,#cbcbcb 2.0%,#cecece 4.0%,#d0d0d0 6.0%,#d2d2d2 8.0%,#d4d4d4 10.0%,#d6d6d6 12.0%,#d7d7d7 14.0%,#d9d9d9 16.0%,#dadada 18.0%,#dcdcdc 20.0%,#dddddd 22.0%,#dedede 24.0%,#dfdfdf 26.0%,#e0e0e0 28.0%,#e1e1e1 30.0%,#e2e2e2 32.0%,#e3e3e3 34.0%,#e4e4e4 36.0%,#e4e4e4 38.0%,#e5e5e5 40.0%,#e5e5e5 42.0%,#e5e5e5 44.0%,#e6e6e6 46.0%,#e6e6e6 48.0%,#e6e6e6 50.0%,#e6e6e6 52.0%,#e6e6e6 54.0%,#e5e5e5 56.0%,#e5e5e5 58.0%,#e5e5e5 60.0%,#e4e4e4 62.0%,#e4e4e4 64.0%,#e3e3e3 66.0%,#e2e2e2 68.0%,#e1e1e1 70.0%,#e0e0e0 72.0%,#dfdfdf 74.0%,#dedede 76.0%,#dddddd 78.0%,#dcdcdc 80.0%,#dadada 82.0%,#d9d9d9 84.0%,#d7d7d7 86.0%,#d6d6d6 88.0%,#d4d4d4 90.0%,#d2d2d2 92.0%,#d0d0d0 94.0%,#cecece 96.0%,#cbcbcb 98.0%,#c9c9c9 100.0%)"></div>
<div style="height:5px;background:linear-gradient(90deg,#c9c9c9 0.0%,#cbcbcb 2.0%,#cdcdcd 4.0%,#cfcfcf 6.0%,#d1d1d1 8.0%,#d3d3d3 10.0%,#d5d5d5 12.0%,#d7d7d7 14.0%,#d9d9d9 16.0%,#dadada 18.0%,#dbdbdb 20.0%,#dddddd 22.0%,#dedede 24.0%,#dfdfdf 26.0%,#e0e0e0 28.0%,#e1e1e1 30.0%,#e2e2e2 32.0%,#e2e2e2 34.0%,#e3e3e3 36.0%,#e4e4e4 38.0%,#e4e4e4 40.0%,#e5e5e5 42.0%,#e5e5e5 44.0%,#e5e5e5 46.0%,#e5e5e5 48.0%,#e5e5e5 50.0%,#e5e5e5 52.0%,#e5e5e5 54.0%,#e5e5e5 56.0%,#e5e5e5 58.0%,#e4e4e4 60.0%,#e4e4e4 62.0%,#e3e3e3 64.0%,#e2e2e2 66.0%,#e2e2e2 68.0%,#e1e1e1 70.0%,#e0e0e0 72.0%,#dfdfdf 74.0%,#dedede 76.0%,#dddddd 78.0%,#dbdbdb 80.0%,#dadada 82.0%,#d9d9d9 84.0%,#d7d7d7 86.0%,#d5d5d5 88.0%,#d3d3d3 90.0%,#d1d1d1 92.0%,#cfcfcf 94.0%,#cdcdcd 96.0%,#cbcbcb 98.0%,#c9c9c9 100.0%)"></div>
<div style="height:5px;background:linear-gradient(90deg,#c8c8c8 0.0%,#cbcbcb 2.0%,#cdcdcd 4.0%,#cfcfcf 6.0%,#d1d1d1 8.0%,#d3d3d3 10.0%,#d5d5d5 12.0%,#d7d7d7 14.0%,#d8d8d8 16.0%,#dadada 18.0%,#dbdbdb 20.0%,#dcdcdc 22.0%,#dddddd 24.0%,#dfdfdf 26.0%,#e0e0e0 28.0%,#e0e0e0 30.0%,#e1e1e1 32.0%,#e2e2e2 34.0%,#e3e3e3 36.0%,#e3e3e3 38.0%,#e4e4e4 40.0%,#e4e4e4 42.0%,#e4e4e4 44.0%,#e5e5e5 46.0%,#e5e5e5 48.0%,#e5e5e5 50.0%,#e5e5e5 52.0%,#e5e5e5 54.0%,#e4e4e4 56.0%,#e4e4e4 58.0%,#e4e4e4 60.0%,#e3e3e3 62.0%,#e3e3e3 64.0%,#e2e2e2 66.0%,#e1e1e1 68.0%,#e0e0e0 70.0%,#e0e0e0 72.0%,#dfdfdf 74.0%,#dddddd 76.0%,#dcdcdc 78.0%,#dbdbdb 80.0%,#dadada 82.0%,#d8d8d8 84.0%,#d7d7d7 86.0%,#d5d5d5 88.0%,#d3d3d3 90.0%,#d1d1d1 92.0%,#cfcfcf 94.0%,#cdcdcd 96.0%,#cbcbcb 98.0%,#c8c8c8 100.0%)"></div>
<div style="height:5px;background:linear-gradient(90deg,#c8c8c8 0.0%,#cacaca 2.0%,#cdcdcd 4.0%,#cfcfcf 6.0%,#d1d1d1 8.0%,#d3d3d3 10.0%,#d4d4d4 12.0%,#d6d6d6 14.0%,#d8d8d8 16.0%,#d9d9d9 18.0%,#dadada 20.0%,#dcdcdc 22.0%,#dddddd 24.0%,#dedede 26.0%,#dfdfdf 28.0%,#e0e0e0 30.0%,#e1e1e1 32.0%,#e1e1e1 34.0%,#e2e2e2 36.0%,#e3e3e3 38.0%,#e3e3e3 40.0%,#e3e3e3 42.0%,#e4e4e4 44.0%,#e4e4e4 46.0%,#e4e4e4 48.0%,#e4e4e4 50.0%,#e4e4e4 52.0%,#e4e4e4 54.0%,#e4e4e4 56.0%,#e3e3e3 58.0%,#e3e3e3 60.0%,#e3e3e3 62.0%,#e2e2e2 64.0%,#e1e1e1 66.0%,#e1e1e1 68.0%,#e0e0e0 70.0%,#dfdfdf 72.0%,#dedede 74.0%,#dddddd 76.0%,#dcdcdc 78.0%,#dadada 80.0%,#d9d9d9 82.0%,#d8d8d8 84.0%,#d6d6d6 86.0%,#d4d4d4 88.0%,#d3d3d3 90.0%,#d1d1d1 92.0%,#cfcfcf 94.0%,#cdcdcd 96.0%,#cacaca 98.0%,#c8c8c8 100.0%)"></div>
<div style="height:5px;background:linear-gradient(90deg,#c8c8c8 0.0%,#cacaca 2.0%,#cccccc 4.0%,#cecece 6.0%,#d0d0d0 8.0%,#d2d2d2 10.0%,#d4d4d4 12.0%,#d6d6d6 14.0%,#d7d7d7 16.0%,#d9d9d9 18.0%,#dadada 20.0%,#dbdbdb 22.0%,#dcdcdc 24.0%,#dedede 26.0%,#dfdfdf 28.0%,#dfdfdf 30.0%,#e0e0e0 32.0%,#e1e1e1 34.0%,#e2e2e2 36.0%,#e2e2e2 38.0%,#e3e3e3 40.0%,#e3e3e3 42.0%,#e3e3e3 44.0%,#e3e3e3 46.0%,#e4e4e4 48.0%,#e4e4e4 50.0%,#e4e4e4 52.0%,#e3e3e3 54.0%,#e3e3e3 56.0%,#e3e3e3 58.0%,#e3e3e3 60.0%,#e2e2e2 62.0%,#e2e2e2 64.0%,#e1e1e1 66.0%,#e0e0e0 68.0%,#dfdfdf 70.0%,#dfdfdf 72.0%,#dedede 74.0%,#dcdcdc 76.0%,#dbdbdb 78.0%,#dadada 80.0%,#d9d9d9 82.0%,#d7d7d7 84.0%,#d6d6d6 86.0%,#d4d4d4 88.0%,#d2d2d2 90.0%,#d0d0d0 92.0%,#cecece 94.0%,#cccccc 96.0%,#cacaca 98.0%,#c8c8c8 100.0%)"></div>
<div style="height:5px;background:linear-gradient(90deg,#c8c8c8 0.0%,#cacaca 2.0%,#cccccc 4.0%,#cecece 6.0%,#d0d0d0 8.0%,#d2d2d2 10.0%,#d4d4d4 12.0%,#d5d5d5 14.0%,#d7d7d7 16.0%,#d8d8d8 18.0%,#dadada 20.0%,#dbdbdb 22.0%,#dcdcdc 24.0%,#dddddd 26.0%,#dedede 28.0%,#dfdfdf 30.0%,#e0e0e0 32.0%,#e0e0e0 34.0%,#e1e1e1 36.0%,#e2e2e2 38.0%,#e2e2e2 40.0%,#e2e2e2 42.0%,#e3e3e3 44.0%,#e3e3e3 46.0%,#e3e3e3 48.0%,#e3e3e3 50.0%,#e3e3e3 52.0%,#e3e3e3 54.0%,#e3e3e3 56.0%,#e2e2e2 58.0%,#e2e2e2 60.0%,#e2e2e2 62.0%,#e1e1e1 64.0%,#e0e0e0 66.0%,#e0e0e0 68.0%,#dfdfdf 70.0%,#dedede 72.0%,#dddddd 74.0%,#dcdcdc 76.0%,#dbdbdb 78.0%,#dadada 80.0%,#d8d8d8 82.0%,#d7d7d7 84.0%,#d5d5d5 86.0%,#d4d4d4 88.0%,#d2d2d2 90.0%,#d0d0d0 92.0%,#cecece 94.0%,#cccccc 96.0%,#cacaca 98.0%,#c8c8c8 100.0%)"></div>
<div style="height:5px;background:linear-gradient(90deg,#c7c7c7 0.0%,#cacaca 2.0%,#cccccc 4.0%,#cecece 6.0%,#d0d0d0 8.0%,#d2d2d2 10.0%,#d3d3d3 12.0%,#d5d5d5 14.0%,#d6d6d6 16.0%,#d8d8d8 18.0%,#d9d9d9 20.0%,#dadada 22.0%,#dcdcdc 24.0%,#dddddd 26.0%,#dedede 28.0%,#dedede 30.0%,#dfdfdf 32.0%,#e0e0e0 34.0%,#e1e1e1 36.0%,#e1e1e1 38.0%,#e2e2e2 40.0%,#e2e2e2 42.0%,#e2e2e2 44.0%,#e2e2e2 46.0%,#e3e3e3 48.0%,#e3e3e3 50.0%,#e3e3e3 52.0%,#e2e2e2 54.0%,#e2e2e2 56.0%,#e2e2e2 58.0%,#e2e2e2 60.0%,#e1e1e1 62.0%,#e1e1e1 64.0%,#e0e0e0 66.0%,#dfdfdf 68.0%,#dedede 70.0%,#dedede 72.0%,#dddddd 74.0%,#dcdcdc 76.0%,#dadada 78.0%,#d9d9d9 80.0%,#d8d8d8 82.0%,#d6d6d6 84.0%,#d5d5d5 86.0%,#d3d3d3 88.0%,#d2d2d2 90.0%,#d0d0d0 92.0%,#cecece 94.0%,#cccccc 96.0%,#cacaca 98.0%,#c7c7c7 100.0%)"></div>
<div style="height:5px;background:linear-gradient(90deg,#c7c7c7 0.0%,#c9c9c9 2.0%,#cbcbcb 4.0%,#cdcdcd 6.0%,#cfcfcf 8.0%,#d1d1d1 10.0%,#d3d3d3 12.0%,#d4d4d4 14.0%,#d6d6d6 16.0%,#d7d7d7 18.0%,#d9d9d9 20.0%,#dadada 22.0%,#dbdbdb 24.0%,#dcdcdc 26.0%,#dddddd 28.0%,#dedede 30.0%,#dfdfdf 32.0%,#dfdfdf 34.0%,#e0e0e0 36.0%,#e1e1e1 38.0%,#e1e1e1 40.0%,#e1e1e1 42.0%,#e2e2e2 44.0%,#e2e2e2 46.0%,#e2e2e2 48.0%,#e2e2e2 50.0%,#e2e2e2 52.0%,#e2e2e2 54.0%,#e2e2e2 56.0%,#e1e1e1 58.0%,#e1e1e1 60.0%,#e1e1e1 62.0%,#e0e0e0 64.0%,#dfdfdf 66.0%,#dfdfdf 68.0%,#dedede 70.0%,#dddddd 72.0%,#dcdcdc 74.0%,#dbdbdb 76.0%,#dadada 78.0%,#d9d9d9 80.0%,#d7d7d7 82.0%,#d6d6d6 84.0%,#d4d4d4 86.0%,#d3d3d3 88.0%,#d1d1d1 90.0%,#cfcfcf 92.0%,#cdcdcd 94.0%,#cbcbcb 96.0%,#c9c9c9 98.0%,#c7c7c7 100.0%)"></div>
<div style="height:5px;background:linear-gradient(90deg,#c7c7c7 0.0%,#c9c9c9 2.0%,#cbcbcb 4.0%,#cdcdcd 6.0%,#cfcfcf 8.0%,#d1d1d1 10.0%,#d2d2d2 12.0%,#d4d4d4 14.0%,#d6d6d6 16.0%,#d7d7d7 18.0%,#d8d8d8 20.0%,#d9d9d9 22.0%,#dbdbdb 24.0%,#dcdcdc 26.0%,#dddddd 28.0%,#dddddd 30.0%,#dedede 32.0%,#dfdfdf 34.0%,#e0e0e0 36.0%,#e0e0e0 38.0%,#e1e1e1 40.0%,#e1e1e1 42.0%,#e1e1e1 44.0%,#e1e1e1 46.0%,#e2e2e2 48.0%,#e2e2e2 50.0%,#e2e2e2 52.0%,#e1e1e1 54.0%,#e1e1e1 56.0%,#e1e1e1 58.0%,#e1e1e1 60.0%,#e0e0e0 62.0%,#e0e0e0 64.0%,#dfdfdf 66.0%,#dedede 68.0%,#dddddd 70.0%,#dddddd 72.0%,#dcdcdc 74.0%,#dbdbdb 76.0%,#d9d9d9 78.0%,#d8d8d8 80.0%,#d7d7d7 82.0%,#d6d6d6 84.0%,#d4d4d4 86.0%,#d2d2d2 88.0%,#d1d1d1 90.0%,#cfcfcf 92.0%,#cdcdcd 94.0%,#cbcbcb 96.0%,#c9c9c9 98.0%,#c7c7c7 100.0%)"></div>
<div style="height:5px;background:linear-gradient(90deg,#c6c6c6 0.0%,#c9c9c9 2.0%,#cbcbcb 4.0%,#cdcdcd 6.0%,#cfcfcf 8.0%,#d0d0d0 10.0%,#d2d2d2 12.0%,#d4d4d4 14.0%,#d5d5d5 16.0%,#d7d7d7 18.0%,#d8d8d8 20.0%,#d9d9d9 22.0%,#dadada 24.0%,#dbdbdb 26.0%,#dcdcdc 28.0%,#dddddd 30.0%,#dedede 32.0%,#dedede 34.0%,#dfdfdf 36.0%,#e0e0e0 38.0%,#e0e0e0 40.0%,#e0e0e0 42.0%,#e1e1e1 44.0%,#e1e1e1 46.0%,#e1e1e1 48.0%,#e1e1e1 50.0%,#e1e1e1 52.0%,#e1e1e1 54.0%,#e1e1e1 56.0%,#e0e0e0 58.0%,#e0e0e0 60.0%,#e0e0e0 62.0%,#dfdfdf 64.0%,#dedede 66.0%,#dedede 68.0%,#dddddd 70.0%,#dcdcdc 72.0%,#dbdbdb 74.0%,#dadada 76.0%,#d9d9d9 78.0%,#d8d8d8 80.0%,#d7d7d7 82.0%,#d5d5d5 84.0%,#d4d4d4 86.0%,#d2d2d2 88.0%,#d0d0d0 90.0%,#cfcfcf 92.0%,#cdcdcd 94.0%,#cbcbcb 96.0%,#c9c9c9 98.0%,#c6c6c6 100.0%)"></div>
<div style="height:5px;background:linear-gradient(90deg,#c6c6c6 0.0%,#c8c8c8 2.0%,#cacaca 4.0%,#cccccc 6.0%,#cecece 8.0%,#d0d0d0 10.0%,#d2d2d2 12.0%,#d3d3d3 14.0%,#d5d5d5 16.0%,#d6d6d6 18.0%,#d7d7d7 20.0%,#d9d9d9 22.0%,#dadada 24.0%,#dbdbdb 26.0%,#dcdcdc 28.0%,#dcdcdc 30.0%,#dddddd 32.0%,#dedede 34.0%,#dfdfdf 36.0%,#dfdfdf 38.0%,#e0e0e0 40.0%,#e0e0e0 42.0%,#e0e0e0 44.0%,#e0e0e0 46.0%,#e0e0e0 48.0%,#e1e1e1 50.0%,#e0e0e0 52.0%,#e0e0e0 54.0%,#e0e0e0 56.0%,#e0e0e0 58.0%,#e0e0e0 60.0%,#dfdfdf 62.0%,#dfdfdf 64.0%,#dedede 66.0%,#dddddd 68.0%,#dcdcdc 70.0%,#dcdcdc 72.0%,#dbdbdb 74.0%,#dadada 76.0%,#d9d9d9 78.0%,#d7d7d7 80.0%,#d6d6d6 82.0%,#d5d5d5 84.0%,#d3d3d3 86.0%,#d2d2d2 88.0%,#d0d0d0 90.0%,#cecece 92.0%,#cccccc 94.0%,#cacaca 96.0%,#c8c8c8 98.0%,#c6c6c6 100.0%)"></div>
<div style="height:5px;background:linear-gradient(90deg,#c6c6c6 0.0%,#c8c8c8 2.0%,#cacaca 4.0%,#cccccc 6.0%,#cecece 8.0%,#d0d0d0 10.0%,#d1d1d1 12.0%,#d3d3d3 14.0%,#d4d4d4 16.0%,#d6d6d6 18.0%,#d7d7d7 20.0%,#d8d8d8 22.0%,#d9d9d9 24.0%,#dadada 26.0%,#dbdbdb 28.0%,#dcdcdc 30.0%,#dddddd 32.0%,#dddddd 34.0%,#dedede 36.0%,#dfdfdf 38.0%,#dfdfdf 40.0%,#dfdfdf 42.0%,#e0e0e0 44.0%,#e0e0e0 46.0%,#e0e0e0 48.0%,#e0e0e0 50.0%,#e0e0e0 52.0%,#e0e0e0 54.0%,#e0e0e0 56.0%,#dfdfdf 58.0%,#dfdfdf 60.0%,#dfdfdf 62.0%,#dedede 64.0%,#dddddd 66.0%,#dddddd 68.0%,#dcdcdc 70.0%,#dbdbdb 72.0%,#dadada 74.0%,#d9d9d9 76.0%,#d8d8d8 78.0%,#d7d7d7 80.0%,#d6d6d6 82.0%,#d4d4d4 84.0%,#d3d3d3 86.0%,#d1d1d1 88.0%,#d0d0d0 90.0%,#cecece 92.0%,#cccccc 94.0%,#cacaca 96.0%,#c8c8c8 98.0%,#c6c6c6 100.0%)"></div>
<div style="height:5px;background:linear-gradient(90deg,#c5c5c5 0.0%,#c8c8c8 2.0%,#cacaca 4.0%,#cccccc 6.0%,#cdcdcd 8.0%,#cfcfcf 10.0%,#d1d1d1 12.0%,#d2d2d2 14.0%,#d4d4d4 16.0%,#d5d5d5 18.0%,#d6d6d6 20.0%,#d8d8d8 22.0%,#d9d9d9 24.0%,#dadada 26.0%,#dbdbdb 28.0%,#dbdbdb 30.0%,#dcdcdc 32.0%,#dddddd 34.0%,#dedede 36.0%,#dedede 38.0%,#dedede 40.0%,#dfdfdf 42.0%,#dfdfdf 44.0%,#dfdfdf 46.0%,#dfdfdf 48.0%,#dfdfdf 50.0%,#dfdfdf 52.0%,#dfdfdf 54.0%,#dfdfdf 56.0%,#dfdfdf 58.0%,#dedede 60.0%,#dedede 62.0%,#dedede 64.0%,#dddddd 66.0%,#dcdcdc 68.0%,#dbdbdb 70.0%,#dbdbdb 72.0%,#dadada 74.0%,#d9d9d9 76.0%,#d8d8d8 78.0%,#d6d6d6 80.0%,#d5d5d5 82.0%,#d4d4d4 84.0%,#d2d2d2 86.0%,#d1d1d1 88.0%,#cfcfcf 90.0%,#cdcdcd 92.0%,#cccccc 94.0%,#cacaca 96.0%,#c8c8c8 98.0%,#c5c5c5 100.0%)"></div>
<div style="height:5px;background:linear-gradient(90deg,#c5c5c5 0.0%,#c7c7c7 2.0%,#c9c9c9 4.0%,#cbcbcb 6.0%,#cdcdcd 8.0%,#cfcfcf 10.0%,#d0d0d0 12.0%,#d2d2d2 14.0%,#d3d3d3 16.0%,#d5d5d5 18.0%,#d6d6d6 20.0%,#d7d7d7 22.0%,#d8d8d8 24.0%,#d9d9d9 26.0%,#dadada 28.0%,#dbdbdb 30.0%,#dcdcdc 32.0%,#dcdcdc 34.0%,#dddddd 36.0%,#dedede 38.0%,#dedede 40.0%,#dedede 42.0%,#dfdfdf 44.0%,#dfdfdf 46.0%,#dfdfdf 48.0%,#dfdfdf 50.0%,#dfdfdf 52.0%,#dfdfdf 54.0%,#dfdfdf 56.0%,#dedede 58.0%,#dedede 60.0%,#dedede 62.0%,#dddddd 64.0%,#dcdcdc 66.0%,#dcdcdc 68.0%,#dbdbdb 70.0%,#dadada 72.0%,#d9d9d9 74.0%,#d8d8d8 76.0%,#d7d7d7 78.0%,#d6d6d6 80.0%,#d5d5d5 82.0%,#d3d3d3 84.0%,#d2d2d2 86.0%,#d0d0d0 88.0%,#cfcfcf 90.0%,#cdcdcd 92.0%,#cbcbcb 94.0%,#c9c9c9 96.0%,#c7c7c7 98.0%,#c5c5c5 100.0%)"></div>
<div style="height:5px;background:linear-gradient(90deg,#c5c5c5 0.0%,#c7c7c7 2.0%,#c9c9c9 4.0%,#cbcbcb 6.0%,#cdcdcd 8.0%,#cecece 10.0%,#d0d0d0 12.0%,#d2d2d2 14.0%,#d3d3d3 16.0%,#d4d4d4 18.0%,#d6d6d6 20.0%,#d7d7d7 22.0%,#d8d8d8 24.0%,#d9d9d9 26.0%,#dadada 28.0%,#dbdbdb 30.0%,#dbdbdb 32.0%,#dcdcdc 34.0%,#dddddd 36.0%,#dddddd 38.0%,#dddddd 40.0%,#dedede 42.0%,#dedede 44.0%,#dedede 46.0%,#dedede 48.0%,#dedede 50.0%,#dedede 52.0%,#dedede 54.0%,#dedede 56.0%,#dedede 58.0%,#dddddd 60.0%,#dddddd 62.0%,#dddddd 64.0%,#dcdcdc 66.0%,#dbdbdb 68.0%,#dbdbdb 70.0%,#dadada 72.0%,#d9d9d9 74.0%,#d8d8d8 76.0%,#d7d7d7 78.0%,#d6d6d6 80.0%,#d4d4d4 82.0%,#d3d3d3 84.0%,#d2d2d2 86.0%,#d0d0d0 88.0%,#cecece 90.0%,#cdcdcd 92.0%,#cbcbcb 94.0%,#c9c9c9 96.0%,#c7c7c7 98.0%,#c5c5c5 100.0%)"></div>
<div style="height:5px;background:linear-gradient(90deg,#c5c5c5 0.0%,#c7c7c7 2.0%,#c9c9c9 4.0%,#cacaca 6.0%,#cccccc 8.0%,#cecece 10.0%,#d0d0d0 12.0%,#d1d1d1 14.0%,#d3d3d3 16.0%,#d4d4d4 18.0%,#d5d5d5 20.0%,#d6d6d6 22.0%,#d7d7d7 24.0%,#d8d8d8 26.0%,#d9d9d9 28.0%,#dadada 30.0%,#dbdbdb 32.0%,#dbdbdb 34.0%,#dcdcdc 36.0%,#dcdcdc 38.0%,#dddddd 40.0%,#dddddd 42.0%,#dedede 44.0%,#dedede 46.0%,#dedede 48.0%,#dedede 50.0%,#dedede 52.0%,#dedede 54.0%,#dedede 56.0%,#dddddd 58.0%,#dddddd 60.0%,#dcdcdc 62.0%,#dcdcdc 64.0%,#dbdbdb 66.0%,#dbdbdb 68.0%,#dadada 70.0%,#d9d9d9 72.0%,#d8d8d8 74.0%,#d7d7d7 76.0%,#d6d6d6 78.0%,#d5d5d5 80.0%,#d4d4d4 82.0%,#d3d3d3 84.0%,#d1d1d1 86.0%,#d0d0d0 88.0%,#cecece 90.0%,#cccccc 92.0%,#cacaca 94.0%,#c9c9c9 96.0%,#c7c7c7 98.0%,#c5c5c5 100.0%)"></div>
<div style="height:5px;background:linear-gradient(90deg,#c4c4c4 0.0%,#c6c6c6 2.0%,#c8c8c8 4.0%,#cacaca 6.0%,#cccccc 8.0%,#cecece 10.0%,#cfcfcf 12.0%,#d1d1d1 14.0%,#d2d2d2 16.0%,#d3d3d3 18.0%,#d5d5d5 20.0%,#d6d6d6 22.0%,#d7d7d7 24.0%,#d8d8d8 26.0%,#d9d9d9 28.0%,#dadada 30.0%,#dadada 32.0%,#dbdbdb 34.0%,#dbdbdb 36.0%,#dcdcdc 38.0%,#dcdcdc 40.0%,#dddddd 42.0%,#dddddd 44.0%,#dddddd 46.0%,#dddddd 48.0%,#dddddd 50.0%,#dddddd 52.0%,#dddddd 54.0%,#dddddd 56.0%,#dddddd 58.0%,#dcdcdc 60.0%,#dcdcdc 62.0%,#dbdbdb 64.0%,#dbdbdb 66.0%,#dadada 68.0%,#dadada 70.0%,#d9d9d9 72.0%,#d8d8d8 74.0%,#d7d7d7 76.0%,#d6d6d6 78.0%,#d5d5d5 80.0%,#d3d3d3 82.0%,#d2d2d2 84.0%,#d1d1d1 86.0%,#cfcfcf 88.0%,#cecece 90.0%,#cccccc 92.0%,#cacaca 94.0%,#c8c8c8 96.0%,#c6c6c6 98.0%,#c4c4c4 100.0%)"></div>
<div style="height:5px;background:linear-gradient(90deg,#c4c4c4 0.0%,#c6c6c6 2.0%,#c8c8c8 4.0%,#cacaca 6.0%,#cbcbcb 8.0%,#cdcdcd 10.0%,#cfcfcf 12.0%,#d0d0d0 14.0%,#d2d2d2 16.0%,#d3d3d3 18.0%,#d4d4d4 20.0%,#d5d5d5 22.0%,#d6d6d6 24.0%,#d7d7d7 26.0%,#d8d8d8 28.0%,#d9d9d9 30.0%,#dadada 32.0%,#dadada 34.0%,#dbdbdb 36.0%,#dbdbdb 38.0%,#dcdcdc 40.0%,#dcdcdc 42.0%,#dcdcdc 44.0%,#dddddd 46.0%,#dddddd 48.0%,#dddddd 50.0%,#dddddd 52.0%,#dddddd 54.0%,#dcdcdc 56.0%,#dcdcdc 58.0%,#dcdcdc 60.0%,#dbdbdb 62.0%,#dbdbdb 64.0%,#dadada 66.0%,#dadada 68.0%,#d9d9d9 70.0%,#d8d8d8 72.0%,#d7d7d7 74.0%,#d6d6d6 76.0%,#d5d5d5 78.0%,#d4d4d4 80.0%,#d3d3d3 82.0%,#d2d2d2 84.0%,#d0d0d0 86.0%,#cfcfcf 88.0%,#cdcdcd 90.0%,#cbcbcb 92.0%,#cacaca 94.0%,#c8c8c8 96.0%,#c6c6c6 98.0%,#c4c4c4 100.0%)"></div>
<div style="height:5px;background:linear-gradient(90deg,#c4c4c4 0.0%,#c6c6c6 2.0%,#c8c8c8 4.0%,#c9c9c9 6.0%,#cbcbcb 8.0%,#cdcdcd 10.0%,#cecece 12.0%,#d0d0d0 14.0%,#d1d1d1 16.0%,#d2d2d2 18.0%,#d4d4d4 20.0%,#d5d5d5 22.0%,#d6d6d6 24.0%,#d7d7d7 26.0%,#d8d8d8 28.0%,#d9d9d9 30.0%,#d9d9d9 32.0%,#dadada 34.0%,#dadada 36.0%,#dbdbdb 38.0%,#dbdbdb 40.0%,#dcdcdc 42.0%,#dcdcdc 44.0%,#dcdcdc 46.0%,#dcdcdc 48.0%,#dcdcdc 50.0%,#dcdcdc 52.0%,#dcdcdc 54.0%,#dcdcdc 56.0%,#dcdcdc 58.0%,#dbdbdb 60.0%,#dbdbdb 62.0%,#dadada 64.0%,#dadada 66.0%,#d9d9d9 68.0%,#d9d9d9 70.0%,#d8d8d8 72.0%,#d7d7d7 74.0%,#d6d6d6 76.0%,#d5d5d5 78.0%,#d4d4d4 80.0%,#d2d2d2 82.0%,#d1d1d1 84.0%,#d0d0d0 86.0%,#cecece 88.0%,#cdcdcd 90.0%,#cbcbcb 92.0%,#c9c9c9 94.0%,#c8c8c8 96.0%,#c6c6c6 98.0%,#c4c4c4 100.0%)"></div>
<div style="height:5px;background:linear-gradient(90deg,#c3c3c3 0.0%,#c5c5c5 2.0%,#c7c7c7 4.0%,#c9c9c9 6.0%,#cbcbcb 8.0%,#cccccc 10.0%,#cecece 12.0%,#cfcfcf 14.0%,#d1d1d1 16.0%,#d2d2d2 18.0%,#d3d3d3 20.0%,#d4d4d4 22.0%,#d5d5d5 24.0%,#d6d6d6 26.0%,#d7d7d7 28.0%,#d8d8d8 30.0%,#d9d9d9 32.0%,#d9d9d9 34.0%,#dadada 36.0%,#dadada 38.0%,#dbdbdb 40.0%,#dbdbdb 42.0%,#dbdbdb 44.0%,#dcdcdc 46.0%,#dcdcdc 48.0%,#dcdcdc 50.0%,#dcdcdc 52.0%,#dcdcdc 54.0%,#dbdbdb 56.0%,#dbdbdb 58.0%,#dbdbdb 60.0%,#dadada 62.0%,#dadada 64.0%,#d9d9d9 66.0%,#d9d9d9 68.0%,#d8d8d8 70.0%,#d7d7d7 72.0%,#d6d6d6 74.0%,#d5d5d5 76.0%,#d4d4d4 78.0%,#d3d3d3 80.0%,#d2d2d2 82.0%,#d1d1d1 84.0%,#cfcfcf 86.0%,#cecece 88.0%,#cccccc 90.0%,#cbcbcb 92.0%,#c9c9c9 94.0%,#c7c7c7 96.0%,#c5c5c5 98.0%,#c3c3c3 100.0%)"></div>
<div style="height:5px;background:linear-gradient(90deg,#c3c3c3 0.0%,#c5c5c5 2.0%,#c7c7c7 4.0%,#c9c9c9 6.0%,#cacaca 8.0%,#cccccc 10.0%,#cdcdcd 12.0%,#cfcfcf 14.0%,#d0d0d0 16.0%,#d2d2d2 18.0%,#d3d3d3 20.0%,#d4d4d4 22.0%,#d5d5d5 24.0%,#d6d6d6 26.0%,#d7d7d7 28.0%,#d8d8d8 30.0%,#d8d8d8 32.0%,#d9d9d9 34.0%,#d9d9d9 36.0%,#dadada 38.0%,#dadada 40.0%,#dbdbdb 42.0%,#dbdbdb 44.0%,#dbdbdb 46.0%,#dbdbdb 48.0%,#dbdbdb 50.0%,#dbdbdb 52.0%,#dbdbdb 54.0%,#dbdbdb 56.0%,#dbdbdb 58.0%,#dadada 60.0%,#dadada 62.0%,#d9d9d9 64.0%,#d9d9d9 66.0%,#d8d8d8 68.0%,#d8d8d8 70.0%,#d7d7d7 72.0%,#d6d6d6 74.0%,#d5d5d5 76.0%,#d4d4d4 78.0%,#d3d3d3 80.0%,#d2d2d2 82.0%,#d0d0d0 84.0%,#cfcfcf 86.0%,#cdcdcd 88.0%,#cccccc 90.0%,#cacaca 92.0%,#c9c9c9 94.0%,#c7c7c7 96.0%,#c5c5c5 98.0%,#c3c3c3 100.0%)"></div>
<div style="height:5px;background:linear-gradient(90deg,#c3c3c3 0.0%,#c5c5c5 2.0%,#c6c6c6 4.0%,#c8c8c8 6.0%,#cacaca 8.0%,#cccccc 10.0%,#cdcdcd 12.0%,#cecece 14.0%,#d0d0d0 16.0%,#d1d1d1 18.0%,#d2d2d2 20.0%,#d3d3d3 22.0%,#d4d4d4 24.0%,#d5d5d5 26.0%,#d6d6d6 28.0%,#d7d7d7 30.0%,#d8d8d8 32.0%,#d8d8d8 34.0%,#d9d9d9 36.0%,#d9d9d9 38.0%,#dadada 40.0%,#dadada 42.0%,#dadada 44.0%,#dbdbdb 46.0%,#dbdbdb 48.0%,#dbdbdb 50.0%,#dbdbdb 52.0%,#dbdbdb 54.0%,#dadada 56.0%,#dadada 58.0%,#dadada 60.0%,#d9d9d9 62.0%,#d9d9d9 64.0%,#d8d8d8 66.0%,#d8d8d8 68.0%,#d7d7d7 70.0%,#d6d6d6 72.0%,#d5d5d5 74.0%,#d4d4d4 76.0%,#d3d3d3 78.0%,#d2d2d2 80.0%,#d1d1d1 82.0%,#d0d0d0 84.0%,#cecece 86.0%,#cdcdcd 88.0%,#cccccc 90.0%,#cacaca 92.0%,#c8c8c8 94.0%,#c6c6c6 96.0%,#c5c5c5 98.0%,#c3c3c3 100.0%)"></div>
<div style="height:5px;background:linear-gradient(90deg,#c2c2c2 0.0%,#c4c4c4 2.0%,#c6c6c6 4.0%,#c8c8c8 6.0%,#cacaca 8.0%,#cbcbcb 10.0%,#cdcdcd 12.0%,#cecece 14.0%,#cfcfcf 16.0%,#d1d1d1 18.0%,#d2d2d2 20.0%,#d3d3d3 22.0%,#d4d4d4 24.0%,#d5d5d5 26.0%,#d6d6d6 28.0%,#d7d7d7 30.0%,#d7d7d7 32.0%,#d8d8d8 34.0%,#d8d8d8 36.0%,#d9d9d9 38.0%,#d9d9d9 40.0%,#dadada 42.0%,#dadada 44.0%,#dadada 46.0%,#dadada 48.0%,#dadada 50.0%,#dadada 52.0%,#dadada 54.0%,#dadada 56.0%,#dadada 58.0%,#d9d9d9 60.0%,#d9d9d9 62.0%,#d8d8d8 64.0%,#d8d8d8 66.0%,#d7d7d7 68.0%,#d7d7d7 70.0%,#d6d6d6 72.0%,#d5d5d5 74.0%,#d4d4d4 76.0%,#d3d3d3 78.0%,#d2d2d2 80.0%,#d1d1d1 82.0%,#cfcfcf 84.0%,#cecece 86.0%,#cdcdcd 88.0%,#cbcbcb 90.0%,#cacaca 92.0%,#c8c8c8 94.0%,#c6c6c6 96.0%,#c4c4c4 98.0%,#c2c2c2 100.0%)"></div>
<div style="height:5px;background:linear-gradient(90deg,#c2c2c2 0.0%,#c4c4c4 2.0%,#c6c6c6 4.0%,#c7c7c7 6.0%,#c9c9c9 8.0%,#cbcbcb 10.0%,#cccccc 12.0%,#cecece 14.0%,#cfcfcf 16.0%,#d0d0d0 18.0%,#d1d1d1 20.0%,#d2d2d2 22.0%,#d3d3d3 24.0%,#d4d4d4 26.0%,#d5d5d5 28.0%,#d6d6d6 30.0%,#d7d7d7 32.0%,#d7d7d7 34.0%,#d8d8d8 36.0%,#d8d8d8 38.0%,#d9d9d9 40.0%,#d9d9d9 42.0%,#d9d9d9 44.0%,#dadada 46.0%,#dadada 48.0%,#dadada 50.0%,#dadada 52.0%,#dadada 54.0%,#d9d9d9 56.0%,#d9d9d9 58.0%,#d9d9d9 60.0%,#d8d8d8 62.0%,#d8d8d8 64.0%,#d7d7d7 66.0%,#d7d7d7 68.0%,#d6d6d6 70.0%,#d5d5d5 72.0%,#d4d4d4 74.0%,#d3d3d3 76.0%,#d2d2d2 78.0%,#d1d1d1 80.0%,#d0d0d0 82.0%,#cfcfcf 84.0%,#cecece 86.0%,#cccccc 88.0%,#cbcbcb 90.0%,#c9c9c9 92.0%,#c7c7c7 94.0%,#c6c6c6 96.0%,#c4c4c4 98.0%,#c2c2c2 100.0%)"></div>
<div style="height:5px;background:linear-gradient(90deg,#c1c1c1 0.0%,#c3c3c3 2.0%,#c5c5c5 4.0%,#c7c7c7 6.0%,#c9c9c9 8.0%,#cacaca 10.0%,#cccccc 12.0%,#cdcdcd 14.0%,#cfcfcf 16.0%,#d0d0d0 18.0%,#d1d1d1 20.0%,#d2d2d2 22.0%,#d3d3d3 24.0%,#d4d4d4 26.0%,#d5d5d5 28.0%,#d6d6d6 30.0%,#d6d6d6 32.0%,#d7d7d7 34.0%,#d7d7d7 36.0%,#d8d8d8 38.0%,#d8d8d8 40.0%,#d9d9d9 42.0%,#d9d9d9 44.0%,#d9d9d9 46.0%,#d9d9d9 48.0%,#d9d9d9 50.0%,#d9d9d9 52.0%,#d9d9d9 54.0%,#d9d9d9 56.0%,#d9d9d9 58.0%,#d8d8d8 60.0%,#d8d8d8 62.0%,#d7d7d7 64.0%,#d7d7d7 66.0%,#d6d6d6 68.0%,#d6d6d6 70.0%,#d5d5d5 72.0%,#d4d4d4 74.0%,#d3d3d3 76.0%,#d2d2d2 78.0%,#d1d1d1 80.0%,#d0d0d0 82.0%,#cfcfcf 84.0%,#cdcdcd 86.0%,#cccccc 88.0%,#cacaca 90.0%,#c9c9c9 92.0%,#c7c7c7 94.0%,#c5c5c5 96.0%,#c3c3c3 98.0%,#c1c1c1 100.0%)"></div>
<div style="height:5px;background:linear-gradient(90deg,#c1c1c1 0.0%,#c3c3c3 2.0%,#c5c5c5 4.0%,#c7c7c7 6.0%,#c8c8c8 8.0%,#cacaca 10.0%,#cbcbcb 12.0%,#cdcdcd 14.0%,#cecece 16.0%,#cfcfcf 18.0%,#d0d0d0 20.0%,#d2d2d2 22.0%,#d3d3d3 24.0%,#d3d3d3 26.0%,#d4d4d4 28.0%,#d5d5d5 30.0%,#d6d6d6 32.0%,#d6d6d6 34.0%,#d7d7d7 36.0%,#d7d7d7 38.0%,#d8d8d8 40.0%,#d8d8d8 42.0%,#d8d8d8 44.0%,#d9d9d9 46.0%,#d9d9d9 48.0%,#d9d9d9 50.0%,#d9d9d9 52.0%,#d9d9d9 54.0%,#d8d8d8 56.0%,#d8d8d8 58.0%,#d8d8d8 60.0%,#d7d7d7 62.0%,#d7d7d7 64.0%,#d6d6d6 66.0%,#d6d6d6 68.0%,#d5d5d5 70.0%,#d4d4d4 72.0%,#d3d3d3 74.0%,#d3d3d3 76.0%,#d2d2d2 78.0%,#d0d0d0 80.0%,#cfcfcf 82.0%,#cecece 84.0%,#cdcdcd 86.0%,#cbcbcb 88.0%,#cacaca 90.0%,#c8c8c8 92.0%,#c7c7c7 94.0%,#c5c5c5 96.0%,#c3c3c3 98.0%,#c1c1c1 100.0%)"></div>
<div style="height:5px;background:linear-gradient(90deg,#c1c1c1 0.0%,#c3c3c3 2.0%,#c5c5c5 4.0%,#c6c6c6 6.0%,#c8c8c8 8.0%,#c9c9c9 10.0%,#cbcbcb 12.0%,#cccccc 14.0%,#cecece 16.0%,#cfcfcf 18.0%,#d0d0d0 20.0%,#d1d1d1 22.0%,#d2d2d2 24.0%,#d3d3d3 26.0%,#d4d4d4 28.0%,#d5d5d5 30.0%,#d5d5d5 32.0%,#d6d6d6 34.0%,#d6d6d6 36.0%,#d7d7d7 38.0%,#d7d7d7 40.0%,#d8d8d8 42.0%,#d8d8d8 44.0%,#d8d8d8 46.0%,#d8d8d8 48.0%,#d8d8d8 50.0%,#d8d8d8 52.0%,#d8d8d8 54.0%,#d8d8d8 56.0%,#d8d8d8 58.0%,#d7d7d7 60.0%,#d7d7d7 62.0%,#d6d6d6 64.0%,#d6d6d6 66.0%,#d5d5d5 68.0%,#d5d5d5 70.0%,#d4d4d4 72.0%,#d3d3d3 74.0%,#d2d2d2 76.0%,#d1d1d1 78.0%,#d0d0d0 80.0%,#cfcfcf 82.0%,#cecece 84.0%,#cccccc 86.0%,#cbcbcb 88.0%,#c9c9c9 90.0%,#c8c8c8 92.0%,#c6c6c6 94.0%,#c5c5c5 96.0%,#c3c3c3 98.0%,#c1c1c1 100.0%)"></div>
<div style="height:5px;background:linear-gradient(90deg,#c0c0c0 0.0%,#c2c2c2 2.0%,#c4c4c4 4.0%,#c6c6c6 6.0%,#c7c7c7 8.0%,#c9c9c9 10.0%,#cacaca 12.0%,#cccccc 14.0%,#cdcdcd 16.0%,#cecece 18.0%,#d0d0d0 20.0%,#d1d1d1 22.0%,#d2d2d2 24.0%,#d2d2d2 26.0%,#d3d3d3 28.0%,#d4d4d4 30.0%,#d5d5d5 32.0%,#d5d5d5 34.0%,#d6d6d6 36.0%,#d6d6d6 38.0%,#d7d7d7 40.0%,#d7d7d7 42.0%,#d7d7d7 44.0%,#d7d7d7 46.0%,#d8d8d8 48.0%,#d8d8d8 50.0%,#d8d8d8 52.0%,#d7d7d7 54.0%,#d7d7d7 56.0%,#d7d7d7 58.0%,#d7d7d7 60.0%,#d6d6d6 62.0%,#d6d6d6 64.0%,#d5d5d5 66.0%,#d5d5d5 68.0%,#d4d4d4 70.0%,#d3d3d3 72.0%,#d2d2d2 74.0%,#d2d2d2 76.0%,#d1d1d1 78.0%,#d0d0d0 80.0%,#cecece 82.0%,#cdcdcd 84.0%,#cccccc 86.0%,#cacaca 88.0%,#c9c9c9 90.0%,#c7c7c7 92.0%,#c6c6c6 94.0%,#c4c4c4 96.0%,#c2c2c2 98.0%,#c0c0c0 100.0%)"></div>
<div style="height:5px;background:linear-gradient(90deg,#c0c0c0 0.0%,#c2c2c2 2.0%,#c4c4c4 4.0%,#c5c5c5 6.0%,#c7c7c7 8.0%,#c9c9c9 10.0%,#cacaca 12.0%,#cbcbcb 14.0%,#cdcdcd 16.0%,#cecece 18.0%,#cfcfcf 20.0%,#d0d0d0 22.0%,#d1d1d1 24.0%,#d2d2d2 26.0%,#d3d3d3 28.0%,#d4d4d4 30.0%,#d4d4d4 32.0%,#d5d5d5 34.0%,#d5d5d5 36.0%,#d6d6d6 38.0%,#d6d6d6 40.0%,#d7d7d7 42.0%,#d7d7d7 44.0%,#d7d7d7 46.0%,#d7d7d7 48.0%,#d7d7d7 50.0%,#d7d7d7 52.0%,#d7d7d7 54.0%,#d7d7d7 56.0%,#d7d7d7 58.0%,#d6d6d6 60.0%,#d6d6d6 62.0%,#d5d5d5 64.0%,#d5d5d5 66.0%,#d4d4d4 68.0%,#d4d4d4 70.0%,#d3d3d3 72.0%,#d2d2d2 74.0%,#d1d1d1 76.0%,#d0d0d0 78.0%,#cfcfcf 80.0%,#cecece 82.0%,#cdcdcd 84.0%,#cbcbcb 86.0%,#cacaca 88.0%,#c9c9c9 90.0%,#c7c7c7 92.0%,#c5c5c5 94.0%,#c4c4c4 96.0%,#c2c2c2 98.0%,#c0c0c0 100.0%)"></div>
<div style="height:5px;background:linear-gradient(90deg,#c0c0c0 0.0%,#c2c2c2 2.0%,#c3c3c3 4.0%,#c5c5c5 6.0%,#c7c7c7 8.0%,#c8c8c8 10.0%,#cacaca 12.0%,#cbcbcb 14.0%,#cccccc 16.0%,#cdcdcd 18.0%,#cfcfcf 20.0%,#d0d0d0 22.0%,#d1d1d1 24.0%,#d1d1d1 26.0%,#d2d2d2 28.0%,#d3d3d3 30.0%,#d4d4d4 32.0%,#d4d4d4 34.0%,#d5d5d5 36.0%,#d5d5d5 38.0%,#d6d6d6 40.0%,#d6d6d6 42.0%,#d6d6d6 44.0%,#d6d6d6 46.0%,#d7d7d7 48.0%,#d7d7d7 50.0%,#d7d7d7 52.0%,#d6d6d6 54.0%,#d6d6d6 56.0%,#d6d6d6 58.0%,#d6d6d6 60.0%,#d5d5d5 62.0%,#d5d5d5 64.0%,#d4d4d4 66.0%,#d4d4d4 68.0%,#d3d3d3 70.0%,#d2d2d2 72.0%,#d1d1d1 74.0%,#d1d1d1 76.0%,#d0d0d0 78.0%,#cfcfcf 80.0%,#cdcdcd 82.0%,#cccccc 84.0%,#cbcbcb 86.0%,#cacaca 88.0%,#c8c8c8 90.0%,#c7c7c7 92.0%,#c5c5c5 94.0%,#c3c3c3 96.0%,#c2c2c2 98.0%,#c0c0c0 100.0%)"></div>
<div style="height:5px;background:linear-gradient(90deg,#bfbfbf 0.0%,#c1c1c1 2.0%,#c3c3c3 4.0%,#c5c5c5 6.0%,#c6c6c6 8.0%,#c8c8c8 10.0%,#c9c9c9 12.0%,#cbcbcb 14.0%,#cccccc 16.0%,#cdcdcd 18.0%,#cecece 20.0%,#cfcfcf 22.0%,#d0d0d0 24.0%,#d1d1d1 26.0%,#d2d2d2 28.0%,#d3d3d3 30.0%,#d3d3d3 32.0%,#d4d4d4 34.0%,#d4d4d4 36.0%,#d5d5d5 38.0%,#d5d5d5 40.0%,#d5d5d5 42.0%,#d6d6d6 44.0%,#d6d6d6 46.0%,#d6d6d6 48.0%,#d6d6d6 50.0%,#d6d6d6 52.0%,#d6d6d6 54.0%,#d6d6d6 56.0%,#d5d5d5 58.0%,#d5d5d5 60.0%,#d5d5d5 62.0%,#d4d4d4 64.0%,#d4d4d4 66.0%,#d3d3d3 68.0%,#d3d3d3 70.0%,#d2d2d2 72.0%,#d1d1d1 74.0%,#d0d0d0 76.0%,#cfcfcf 78.0%,#cecece 80.0%,#cdcdcd 82.0%,#cccccc 84.0%,#cbcbcb 86.0%,#c9c9c9 88.0%,#c8c8c8 90.0%,#c6c6c6 92.0%,#c5c5c5 94.0%,#c3c3c3 96.0%,#c1c1c1 98.0%,#bfbfbf 100.0%)"></div>
<div style="height:2px;background:linear-gradient(90deg,#bfbfbf 0.0%,#c1c1c1 2.0%,#c3c3c3 4.0%,#c4c4c4 6.0%,#c6c6c6 8.0%,#c7c7c7 10.0%,#c9c9c9 12.0%,#cacaca 14.0%,#cbcbcb 16.0%,#cdcdcd 18.0%,#cecece 20.0%,#cfcfcf 22.0%,#d0d0d0 24.0%,#d1d1d1 26.0%,#d1d1d1 28.0%,#d2d2d2 30.0%,#d3d3d3 32.0%,#d3d3d3 34.0%,#d4d4d4 36.0%,#d4d4d4 38.0%,#d5d5d5 40.0%,#d5d5d5 42.0%,#d5d5d5 44.0%,#d6d6d6 46.0%,#d6d6d6 48.0%,#d6d6d6 50.0%,#d6d6d6 52.0%,#d6d6d6 54.0%,#d5d5d5 56.0%,#d5d5d5 58.0%,#d5d5d5 60.0%,#d4d4d4 62.0%,#d4d4d4 64.0%,#d3d3d3 66.0%,#d3d3d3 68.0%,#d2d2d2 70.0%,#d1d1d1 72.0%,#d1d1d1 74.0%,#d0d0d0 76.0%,#cfcfcf 78.0%,#cecece 80.0%,#cdcdcd 82.0%,#cbcbcb 84.0%,#cacaca 86.0%,#c9c9c9 88.0%,#c7c7c7 90.0%,#c6c6c6 92.0%,#c4c4c4 94.0%,#c3c3c3 96.0%,#c1c1c1 98.0%,#bfbfbf 100.0%)"></div></div><div id="bd"></div><div id="bd2"></div>
<div class="g" style="left:308.37px;top:136.5px;height:190.5px"></div>
<div class="g" style="left:359.54px;top:136.5px;height:190.5px"></div>
<div class="g" style="left:410.71px;top:136.5px;height:190.5px"></div>
<div class="g" style="left:461.88px;top:136.5px;height:190.5px"></div>
<div class="g" style="left:513.05px;top:136.5px;height:190.5px"></div>
<div class="g" style="left:564.22px;top:136.5px;height:190.5px"></div>
<div class="g" style="left:615.39px;top:136.5px;height:190.5px"></div>
<div class="g" style="left:666.56px;top:136.5px;height:190.5px"></div>
<div class="g" style="left:717.73px;top:136.5px;height:190.5px"></div>
<div class="bo" style="left:260px;top:141px;width:156.83px;height:14px"></div>
<div style="position:absolute;left:260px;top:155px;width:156.83px;height:1px;background:rgba(225,160,140,.3)"></div>
<div class="bb" style="left:260px;top:156px;width:213.11px;height:13px"></div>
<div class="bo" style="left:260px;top:179px;width:351.27px;height:14px"></div>
<div style="position:absolute;left:260px;top:193px;width:294.99px;height:1px;background:rgba(225,160,140,.3)"></div>
<div class="bb" style="left:260px;top:194px;width:294.99px;height:13px"></div>
<div class="bo" style="left:260px;top:218px;width:325.69px;height:13px"></div>
<div style="position:absolute;left:260px;top:231px;width:300.10px;height:1px;background:rgba(225,160,140,.3)"></div>
<div class="bb" style="left:260px;top:232px;width:300.10px;height:13px"></div>
<div class="bo" style="left:260px;top:256px;width:392.21px;height:13px"></div>
<div style="position:absolute;left:260px;top:269px;width:392.21px;height:1px;background:rgba(225,160,140,.3)"></div>
<div class="bb" style="left:260px;top:270px;width:417.79px;height:13px"></div>
<div class="bo" style="left:260px;top:294px;width:387.09px;height:13px"></div>
<div style="position:absolute;left:260px;top:307px;width:366.62px;height:1px;background:rgba(225,160,140,.3)"></div>
<div class="bb" style="left:260px;top:308px;width:366.62px;height:13px"></div>
<div style="position:absolute;left:257px;top:136.5px;width:3px;height:190.0px;background:#3c3c3c"></div>
<span id="t1_0" class="t " style="font-size:33px;left:123.23px;top:31.90px;transform:scaleX(1.0161);font-weight:bold;-webkit-text-stroke:0.25px #f7f7f7">Сенаж</span>
<span id="t1_1" class="t " style="font-size:33px;left:236.71px;top:31.90px;transform:scaleX(0.9714);font-weight:bold;-webkit-text-stroke:0.25px #f7f7f7">из</span>
<span id="t1_2" class="t " style="font-size:33px;left:281.05px;top:31.90px;transform:scaleX(1.0065);font-weight:bold;-webkit-text-stroke:0.25px #f7f7f7">люцерны</span>
<span id="t1_3" class="t " style="font-size:33px;left:444.32px;top:31.90px;transform:scaleX(1.0224);font-weight:bold;-webkit-text-stroke:0.25px #f7f7f7">содержание</span>
<span id="t2_0" class="t " style="font-size:33px;left:123.81px;top:76.50px;transform:scaleX(0.9548);font-weight:bold;-webkit-text-stroke:0.25px #f7f7f7">сырого</span>
<span id="t2_1" class="t " style="font-size:33px;left:247.03px;top:76.50px;transform:scaleX(1.0069);font-weight:bold;-webkit-text-stroke:0.25px #f7f7f7">протеина</span>
<span id="t2_2" class="t " style="font-size:33px;left:409.95px;top:76.50px;transform:scaleX(1.0000);font-weight:bold;-webkit-text-stroke:0.25px #f7f7f7">2024</span>
<span id="t2_3" class="t " style="font-size:33px;left:493.58px;top:76.50px;transform:scaleX(0.9000);font-weight:bold;-webkit-text-stroke:0.25px #f7f7f7">vs</span>
<span id="t2_4" class="t " style="font-size:33px;left:536.15px;top:76.50px;transform:scaleX(0.9979);font-weight:bold;-webkit-text-stroke:0.25px #f7f7f7">2025</span>
<span id="t2_5" class="t " style="font-size:33px;left:619.92px;top:76.50px;transform:scaleX(0.9081);font-weight:bold;-webkit-text-stroke:0.25px #f7f7f7">%</span>
<span id="c0_0" class="t r" style="font-size:16.5px;left:62.37px;top:146.80px;transform:scaleX(0.9828);">КАЛУЖСКАЯ</span>
<span id="c0_1" class="t r" style="font-size:16.5px;left:165.08px;top:146.80px;transform:scaleX(0.9616);">ОБЛАСТЬ</span>
<span id="c1_0" class="t r" style="font-size:16.5px;left:41.72px;top:185.20px;transform:scaleX(0.9431);">РЕСПУБЛИКА</span>
<span id="c1_1" class="t r" style="font-size:16.5px;left:150.71px;top:185.20px;transform:scaleX(0.9798);">УДМУРТИЯ</span>
<span id="c2_0" class="t r" style="font-size:16.5px;left:24.84px;top:222.90px;transform:scaleX(1.0041);">ВЛАДИМИРСКАЯ</span>
<span id="c2_1" class="t r" style="font-size:16.5px;left:165.08px;top:222.90px;transform:scaleX(0.9616);">ОБЛАСТЬ</span>
<span id="c3_0" class="t r" style="font-size:16.5px;left:39.52px;top:260.90px;transform:scaleX(0.9431);">РЕСПУБЛИКА</span>
<span id="c3_1" class="t r" style="font-size:16.5px;left:147.26px;top:260.90px;transform:scaleX(0.9544);">ТАТАРСТАН</span>
<span id="c4_0" class="t r" style="font-size:16.5px;left:217.65px;top:298.60px;transform:scaleX(0.9976);">РФ</span>
<span id="o0" class="t dl" style="font-size:16.75px;left:370.32px;top:141.90px;transform:scaleX(1.0700);">13,1</span>
<span id="b0" class="t dl" style="font-size:16.75px;left:427.07px;top:155.90px;transform:scaleX(1.0700);">14,2</span>
<span id="o1" class="t dl" style="font-size:16.75px;left:565.03px;top:179.90px;transform:scaleX(1.0700);">16,9</span>
<span id="b1" class="t dl" style="font-size:16.75px;left:508.95px;top:193.90px;transform:scaleX(1.0700);">15,8</span>
<span id="o2" class="t dl" style="font-size:16.75px;left:538.91px;top:217.90px;transform:scaleX(1.0700);">16,4</span>
<span id="b2" class="t dl" style="font-size:16.75px;left:514.06px;top:231.90px;transform:scaleX(1.0700);">15,9</span>
<span id="o3" class="t dl" style="font-size:16.75px;left:605.97px;top:255.90px;transform:scaleX(1.0700);">17,7</span>
<span id="b3" class="t dl" style="font-size:16.75px;left:631.75px;top:269.90px;transform:scaleX(1.0700);">18,2</span>
<span id="o4" class="t dl" style="font-size:16.75px;left:600.85px;top:293.90px;transform:scaleX(1.0700);">17,6</span>
<span id="b4" class="t dl" style="font-size:16.75px;left:580.58px;top:307.90px;transform:scaleX(1.0700);">17,2</span>
<span id="a10" class="t a" style="font-size:16.5px;left:248.17px;top:348.80px;transform:scaleX(1.0600);">10</span>
<span id="a11" class="t a" style="font-size:16.5px;left:299.34px;top:348.80px;transform:scaleX(1.0600);">11</span>
<span id="a12" class="t a" style="font-size:16.5px;left:350.51px;top:348.80px;transform:scaleX(1.0600);">12</span>
<span id="a13" class="t a" style="font-size:16.5px;left:401.68px;top:348.80px;transform:scaleX(1.0600);">13</span>
<span id="a14" class="t a" style="font-size:16.5px;left:452.85px;top:348.80px;transform:scaleX(1.0600);">14</span>
<span id="a15" class="t a" style="font-size:16.5px;left:504.02px;top:348.80px;transform:scaleX(1.0600);">15</span>
<span id="a16" class="t a" style="font-size:16.5px;left:555.19px;top:348.80px;transform:scaleX(1.0600);">16</span>
<span id="a17" class="t a" style="font-size:16.5px;left:606.36px;top:348.80px;transform:scaleX(1.0600);">17</span>
<span id="a18" class="t a" style="font-size:16.5px;left:657.53px;top:348.80px;transform:scaleX(1.0600);">18</span>
<span id="a19" class="t a" style="font-size:16.5px;left:708.70px;top:348.80px;transform:scaleX(1.0600);">19</span>
<div style="position:absolute;left:153.8px;top:391px;width:446px;height:34.6px;background:rgba(255,255,255,.34)"></div>
<div style="position:absolute;left:186px;top:404px;width:10.2px;height:9.4px;background:#ed8a4e"></div>
<div style="position:absolute;left:396.8px;top:404px;width:9.4px;height:9.4px;background:#5b82cb"></div>
<span id="l0_0" class="t r" style="font-size:16.25px;left:200.98px;top:400.00px;transform:scaleX(1.0328);">Сырой</span>
<span id="l0_1" class="t r" style="font-size:16.25px;left:256.86px;top:400.00px;transform:scaleX(1.0712);">протеин</span>
<span id="l0_2" class="t r" style="font-size:16.25px;left:327.18px;top:400.00px;transform:scaleX(1.1000);">2024</span>
<span id="l1_0" class="t r" style="font-size:16.25px;left:410.98px;top:400.00px;transform:scaleX(1.0328);">Сырой</span>
<span id="l1_1" class="t r" style="font-size:16.25px;left:466.86px;top:400.00px;transform:scaleX(1.0712);">протеин</span>
<span id="l1_2" class="t r" style="font-size:16.25px;left:537.18px;top:400.00px;transform:scaleX(1.0878);">2025</span>
</body></html>
